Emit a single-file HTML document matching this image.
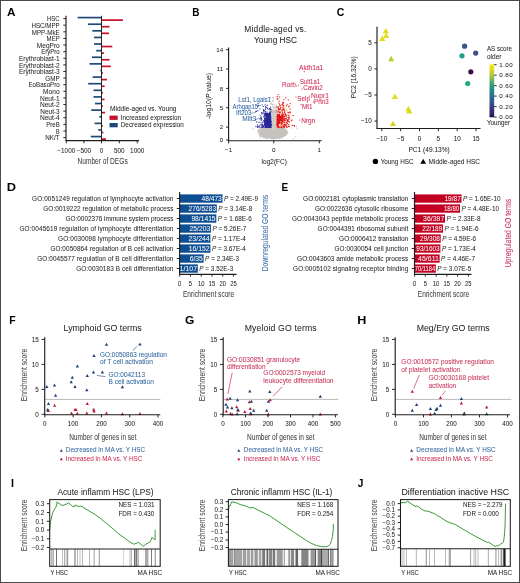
<!DOCTYPE html>
<html><head><meta charset="utf-8"><style>
html,body{margin:0;padding:0;background:#fff;}
body{width:520px;height:583px;overflow:hidden;}
svg{display:block;font-family:"Liberation Sans", sans-serif;}
</style></head><body>
<svg width="520" height="583" viewBox="0 0 520 583" font-family='"Liberation Sans", sans-serif'>
<defs><filter id="soft" filterUnits="userSpaceOnUse" x="0" y="0" width="520" height="583"><feGaussianBlur stdDeviation="0.3"/></filter></defs>
<rect x="0" y="0" width="520" height="583" fill="#fff"/>
<g filter="url(#soft)" fill="#262626">
<rect x="0" y="0" width="520" height="583" fill="#fff"/>
<text transform="translate(6.91,16.0) scale(1.015,1)" font-size="11.6" font-weight="bold" fill="#000">A</text>
<rect x="77.70" y="16.75" width="23.80" height="1.70" fill="#1f4a78"/>
<rect x="101.50" y="19.25" width="21.50" height="1.70" fill="#c8102e"/>
<line x1="63.3" y1="18.6" x2="66" y2="18.6" stroke="#1e1e1e" stroke-width="0.95"/>
<text x="59.7" y="21.3" font-size="6.5" text-anchor="end" textLength="12.7" lengthAdjust="spacingAndGlyphs" stroke="#262626" stroke-width="0.04">HSC</text>
<rect x="88.00" y="23.36" width="13.50" height="1.70" fill="#1f4a78"/>
<rect x="101.50" y="25.86" width="8.00" height="1.70" fill="#c8102e"/>
<line x1="63.3" y1="25.21" x2="66" y2="25.21" stroke="#1e1e1e" stroke-width="0.95"/>
<text x="59.7" y="27.91" font-size="6.5" text-anchor="end" textLength="28.3" lengthAdjust="spacingAndGlyphs" stroke="#262626" stroke-width="0.04">HSC/MPP</text>
<rect x="92.30" y="29.97" width="9.20" height="1.70" fill="#1f4a78"/>
<rect x="101.50" y="32.47" width="7.50" height="1.70" fill="#c8102e"/>
<line x1="63.3" y1="31.82" x2="66" y2="31.82" stroke="#1e1e1e" stroke-width="0.95"/>
<text x="59.7" y="34.52" font-size="6.5" text-anchor="end" textLength="27.9" lengthAdjust="spacingAndGlyphs" stroke="#262626" stroke-width="0.04">MPP-MkE</text>
<rect x="94.00" y="36.58" width="7.50" height="1.70" fill="#1f4a78"/>
<line x1="63.3" y1="38.43000000000001" x2="66" y2="38.43000000000001" stroke="#1e1e1e" stroke-width="0.95"/>
<text x="59.7" y="41.13000000000001" font-size="6.5" text-anchor="end" textLength="13.1" lengthAdjust="spacingAndGlyphs" stroke="#262626" stroke-width="0.04">MEP</text>
<rect x="94.00" y="43.19" width="7.50" height="1.70" fill="#1f4a78"/>
<rect x="101.50" y="45.69" width="10.80" height="1.70" fill="#c8102e"/>
<line x1="63.3" y1="45.040000000000006" x2="66" y2="45.040000000000006" stroke="#1e1e1e" stroke-width="0.95"/>
<text x="59.7" y="47.74000000000001" font-size="6.5" text-anchor="end" textLength="22.9" lengthAdjust="spacingAndGlyphs" stroke="#262626" stroke-width="0.04">MegPro</text>
<rect x="96.20" y="49.80" width="5.30" height="1.70" fill="#1f4a78"/>
<rect x="101.50" y="52.30" width="2.50" height="1.70" fill="#c8102e"/>
<line x1="63.3" y1="51.650000000000006" x2="66" y2="51.650000000000006" stroke="#1e1e1e" stroke-width="0.95"/>
<text x="59.7" y="54.35000000000001" font-size="6.5" text-anchor="end" textLength="18.5" lengthAdjust="spacingAndGlyphs" stroke="#262626" stroke-width="0.04">EryPro</text>
<rect x="92.00" y="56.41" width="9.50" height="1.70" fill="#1f4a78"/>
<rect x="101.50" y="58.91" width="8.00" height="1.70" fill="#c8102e"/>
<line x1="63.3" y1="58.260000000000005" x2="66" y2="58.260000000000005" stroke="#1e1e1e" stroke-width="0.95"/>
<text x="59.7" y="60.96000000000001" font-size="6.5" text-anchor="end" textLength="40.7" lengthAdjust="spacingAndGlyphs" stroke="#262626" stroke-width="0.04">Erythroblast-1</text>
<rect x="89.50" y="63.02" width="12.00" height="1.70" fill="#1f4a78"/>
<rect x="101.50" y="65.52" width="9.30" height="1.70" fill="#c8102e"/>
<line x1="63.3" y1="64.87" x2="66" y2="64.87" stroke="#1e1e1e" stroke-width="0.95"/>
<text x="59.7" y="67.57000000000001" font-size="6.5" text-anchor="end" textLength="40.7" lengthAdjust="spacingAndGlyphs" stroke="#262626" stroke-width="0.04">Erythroblast-2</text>
<rect x="100.30" y="69.63" width="1.20" height="1.70" fill="#1f4a78"/>
<rect x="101.50" y="72.13" width="1.50" height="1.70" fill="#c8102e"/>
<line x1="63.3" y1="71.48" x2="66" y2="71.48" stroke="#1e1e1e" stroke-width="0.95"/>
<text x="59.7" y="74.18" font-size="6.5" text-anchor="end" textLength="40.7" lengthAdjust="spacingAndGlyphs" stroke="#262626" stroke-width="0.04">Erythroblast-3</text>
<rect x="92.60" y="76.24" width="8.90" height="1.70" fill="#1f4a78"/>
<rect x="101.50" y="78.74" width="5.50" height="1.70" fill="#c8102e"/>
<line x1="63.3" y1="78.09" x2="66" y2="78.09" stroke="#1e1e1e" stroke-width="0.95"/>
<text x="59.7" y="80.79" font-size="6.5" text-anchor="end" textLength="14.4" lengthAdjust="spacingAndGlyphs" stroke="#262626" stroke-width="0.04">GMP</text>
<rect x="88.20" y="82.85" width="13.30" height="1.70" fill="#1f4a78"/>
<rect x="101.50" y="85.35" width="3.10" height="1.70" fill="#c8102e"/>
<line x1="63.3" y1="84.70000000000002" x2="66" y2="84.70000000000002" stroke="#1e1e1e" stroke-width="0.95"/>
<text x="59.7" y="87.40000000000002" font-size="6.5" text-anchor="end" textLength="31.2" lengthAdjust="spacingAndGlyphs" stroke="#262626" stroke-width="0.04">EoBasoPro</text>
<rect x="93.50" y="89.46" width="8.00" height="1.70" fill="#1f4a78"/>
<rect x="101.50" y="91.96" width="1.50" height="1.70" fill="#c8102e"/>
<line x1="63.3" y1="91.31" x2="66" y2="91.31" stroke="#1e1e1e" stroke-width="0.95"/>
<text x="59.7" y="94.01" font-size="6.5" text-anchor="end" textLength="16.7" lengthAdjust="spacing" stroke="#262626" stroke-width="0.04">Mono</text>
<rect x="93.50" y="96.07" width="8.00" height="1.70" fill="#1f4a78"/>
<rect x="101.50" y="98.57" width="3.10" height="1.70" fill="#c8102e"/>
<line x1="63.3" y1="97.92000000000002" x2="66" y2="97.92000000000002" stroke="#1e1e1e" stroke-width="0.95"/>
<text x="59.7" y="100.62000000000002" font-size="6.5" text-anchor="end" textLength="19.8" lengthAdjust="spacingAndGlyphs" stroke="#262626" stroke-width="0.04">Neut-1</text>
<rect x="95.00" y="102.68" width="6.50" height="1.70" fill="#1f4a78"/>
<rect x="101.50" y="105.18" width="1.50" height="1.70" fill="#c8102e"/>
<line x1="63.3" y1="104.53" x2="66" y2="104.53" stroke="#1e1e1e" stroke-width="0.95"/>
<text x="59.7" y="107.23" font-size="6.5" text-anchor="end" textLength="19.8" lengthAdjust="spacingAndGlyphs" stroke="#262626" stroke-width="0.04">Neut-2</text>
<rect x="91.20" y="109.29" width="10.30" height="1.70" fill="#1f4a78"/>
<rect x="101.50" y="111.79" width="3.50" height="1.70" fill="#c8102e"/>
<line x1="63.3" y1="111.14000000000001" x2="66" y2="111.14000000000001" stroke="#1e1e1e" stroke-width="0.95"/>
<text x="59.7" y="113.84000000000002" font-size="6.5" text-anchor="end" textLength="19.4" lengthAdjust="spacingAndGlyphs" stroke="#262626" stroke-width="0.04">Neut-3</text>
<rect x="99.20" y="115.90" width="2.30" height="1.70" fill="#1f4a78"/>
<line x1="63.3" y1="117.75" x2="66" y2="117.75" stroke="#1e1e1e" stroke-width="0.95"/>
<text x="59.7" y="120.45" font-size="6.5" text-anchor="end" textLength="19.8" lengthAdjust="spacingAndGlyphs" stroke="#262626" stroke-width="0.04">Neut-4</text>
<rect x="94.60" y="122.51" width="6.90" height="1.70" fill="#1f4a78"/>
<rect x="101.50" y="125.01" width="1.30" height="1.70" fill="#c8102e"/>
<line x1="63.3" y1="124.36000000000001" x2="66" y2="124.36000000000001" stroke="#1e1e1e" stroke-width="0.95"/>
<text x="59.7" y="127.06000000000002" font-size="6.5" text-anchor="end" textLength="13.5" lengthAdjust="spacingAndGlyphs" stroke="#262626" stroke-width="0.04">PreB</text>
<rect x="98.20" y="129.12" width="3.30" height="1.70" fill="#1f4a78"/>
<rect x="101.50" y="131.62" width="1.90" height="1.70" fill="#c8102e"/>
<line x1="63.3" y1="130.97" x2="66" y2="130.97" stroke="#1e1e1e" stroke-width="0.95"/>
<text x="59.7" y="133.67" font-size="6.5" text-anchor="end" textLength="3.6" lengthAdjust="spacingAndGlyphs" stroke="#262626" stroke-width="0.04">B</text>
<rect x="90.80" y="135.73" width="10.70" height="1.70" fill="#1f4a78"/>
<rect x="101.50" y="138.23" width="4.50" height="2.20" fill="#c8102e"/>
<line x1="63.3" y1="137.58" x2="66" y2="137.58" stroke="#1e1e1e" stroke-width="0.95"/>
<text x="59.7" y="140.28" font-size="6.5" text-anchor="end" textLength="14.4" lengthAdjust="spacingAndGlyphs" stroke="#262626" stroke-width="0.04">NK/T</text>
<line x1="66" y1="15.8" x2="66" y2="141" stroke="#1e1e1e" stroke-width="1.15"/>
<line x1="101.5" y1="15.8" x2="101.5" y2="141" stroke="#1e1e1e" stroke-width="0.95"/>
<line x1="65.6" y1="140.6" x2="139" y2="140.6" stroke="#1e1e1e" stroke-width="1.15"/>
<line x1="66.3" y1="140.6" x2="66.3" y2="143.3" stroke="#1e1e1e" stroke-width="0.95"/>
<text x="66.3" y="152.7" font-size="6.4" text-anchor="middle" stroke="#262626" stroke-width="0.04">−1000</text>
<line x1="83.9" y1="140.6" x2="83.9" y2="143.3" stroke="#1e1e1e" stroke-width="0.95"/>
<text x="83.9" y="152.7" font-size="6.4" text-anchor="middle" stroke="#262626" stroke-width="0.04">−500</text>
<line x1="101.5" y1="140.6" x2="101.5" y2="143.3" stroke="#1e1e1e" stroke-width="0.95"/>
<text x="101.5" y="152.7" font-size="6.4" text-anchor="middle" stroke="#262626" stroke-width="0.04">0</text>
<line x1="119.3" y1="140.6" x2="119.3" y2="143.3" stroke="#1e1e1e" stroke-width="0.95"/>
<text x="119.3" y="152.7" font-size="6.4" text-anchor="middle" stroke="#262626" stroke-width="0.04">500</text>
<line x1="137.2" y1="140.6" x2="137.2" y2="143.3" stroke="#1e1e1e" stroke-width="0.95"/>
<text x="137.2" y="152.7" font-size="6.4" text-anchor="middle" stroke="#262626" stroke-width="0.04">1000</text>
<text x="102.6" y="164.3" font-size="8.6" text-anchor="middle" textLength="50.2" lengthAdjust="spacingAndGlyphs" fill="#404040" stroke="#404040" stroke-width="0.04">Number of DEGs</text>
<text x="110" y="111" font-size="6.6" textLength="66.5" lengthAdjust="spacingAndGlyphs" stroke="#262626" stroke-width="0.04">Middle-aged vs. Young</text>
<rect x="109.50" y="115.60" width="8.20" height="4.30" fill="#c8102e"/>
<rect x="109.50" y="123.00" width="8.20" height="4.30" fill="#1f4a78"/>
<text x="120.8" y="119.8" font-size="6.6" textLength="60.2" lengthAdjust="spacingAndGlyphs" stroke="#262626" stroke-width="0.04">Increased expression</text>
<text x="120.8" y="127.3" font-size="6.6" textLength="63" lengthAdjust="spacingAndGlyphs" stroke="#262626" stroke-width="0.04">Decreased expression</text>
<text transform="translate(192.23,15.7) scale(0.862,1)" font-size="11.6" font-weight="bold" fill="#000">B</text>
<text x="275.3" y="31.6" font-size="8.4" text-anchor="middle" textLength="62" lengthAdjust="spacing" stroke="#262626" stroke-width="0.04">Middle-aged vs.</text>
<text x="275.6" y="42.7" font-size="8.4" text-anchor="middle" textLength="43" lengthAdjust="spacingAndGlyphs" stroke="#262626" stroke-width="0.04">Young HSC</text>
<ellipse cx="272.8" cy="132.2" rx="13.6" ry="6.6" fill="#c6c2be"/>
<rect x="270.8" y="110" width="6.0" height="20" fill="#d3cdc8"/>
<rect x="264.2" y="113" width="6.6" height="14.6" fill="#2a2a9c"/>
<rect x="276.9" y="114" width="5.8" height="13.6" fill="#e3141b"/>
<rect x="266.8" y="136.9" width="1.1" height="1.1" fill="#c6c2be"/>
<rect x="265.4" y="127.0" width="1.1" height="1.1" fill="#c6c2be"/>
<rect x="259.7" y="130.3" width="1.1" height="1.1" fill="#c6c2be"/>
<rect x="284.8" y="134.0" width="1.1" height="1.1" fill="#c6c2be"/>
<rect x="285.0" y="133.1" width="1.1" height="1.1" fill="#c6c2be"/>
<rect x="283.0" y="134.1" width="1.1" height="1.1" fill="#c6c2be"/>
<rect x="259.3" y="134.9" width="1.1" height="1.1" fill="#c6c2be"/>
<rect x="281.1" y="135.9" width="1.1" height="1.1" fill="#c6c2be"/>
<rect x="261.8" y="126.4" width="1.1" height="1.1" fill="#c6c2be"/>
<rect x="260.7" y="128.7" width="1.1" height="1.1" fill="#c6c2be"/>
<rect x="283.9" y="130.8" width="1.1" height="1.1" fill="#c6c2be"/>
<rect x="280.2" y="126.9" width="1.1" height="1.1" fill="#c6c2be"/>
<rect x="279.6" y="136.2" width="1.1" height="1.1" fill="#c6c2be"/>
<rect x="267.0" y="138.2" width="1.1" height="1.1" fill="#c6c2be"/>
<rect x="278.0" y="137.7" width="1.1" height="1.1" fill="#c6c2be"/>
<rect x="263.9" y="126.8" width="1.1" height="1.1" fill="#c6c2be"/>
<rect x="261.0" y="130.0" width="1.1" height="1.1" fill="#c6c2be"/>
<rect x="283.7" y="133.8" width="1.1" height="1.1" fill="#c6c2be"/>
<rect x="266.7" y="125.9" width="1.1" height="1.1" fill="#c6c2be"/>
<rect x="266.9" y="137.8" width="1.1" height="1.1" fill="#c6c2be"/>
<rect x="260.1" y="133.4" width="1.1" height="1.1" fill="#c6c2be"/>
<rect x="276.1" y="125.1" width="1.1" height="1.1" fill="#c6c2be"/>
<rect x="272.8" y="138.3" width="1.1" height="1.1" fill="#c6c2be"/>
<rect x="257.7" y="130.5" width="1.1" height="1.1" fill="#c6c2be"/>
<rect x="270.6" y="125.6" width="1.1" height="1.1" fill="#c6c2be"/>
<rect x="284.2" y="130.9" width="1.1" height="1.1" fill="#c6c2be"/>
<rect x="259.8" y="135.1" width="1.1" height="1.1" fill="#c6c2be"/>
<rect x="280.0" y="136.9" width="1.1" height="1.1" fill="#c6c2be"/>
<rect x="285.8" y="133.3" width="1.1" height="1.1" fill="#c6c2be"/>
<rect x="273.5" y="125.0" width="1.1" height="1.1" fill="#c6c2be"/>
<rect x="281.3" y="127.3" width="1.1" height="1.1" fill="#c6c2be"/>
<rect x="267.6" y="125.4" width="1.1" height="1.1" fill="#c6c2be"/>
<rect x="260.6" y="128.6" width="1.1" height="1.1" fill="#c6c2be"/>
<rect x="280.3" y="125.5" width="1.1" height="1.1" fill="#c6c2be"/>
<rect x="258.4" y="132.8" width="1.1" height="1.1" fill="#c6c2be"/>
<rect x="285.4" y="134.2" width="1.1" height="1.1" fill="#c6c2be"/>
<rect x="263.1" y="125.8" width="1.1" height="1.1" fill="#c6c2be"/>
<rect x="277.8" y="126.1" width="1.1" height="1.1" fill="#c6c2be"/>
<rect x="261.7" y="136.1" width="1.1" height="1.1" fill="#c6c2be"/>
<rect x="285.4" y="132.6" width="1.1" height="1.1" fill="#c6c2be"/>
<rect x="278.2" y="136.7" width="1.1" height="1.1" fill="#c6c2be"/>
<rect x="285.7" y="134.2" width="1.1" height="1.1" fill="#c6c2be"/>
<rect x="280.8" y="136.0" width="1.1" height="1.1" fill="#c6c2be"/>
<rect x="260.8" y="136.2" width="1.1" height="1.1" fill="#c6c2be"/>
<rect x="283.8" y="134.8" width="1.1" height="1.1" fill="#c6c2be"/>
<rect x="258.2" y="129.5" width="1.1" height="1.1" fill="#c6c2be"/>
<rect x="278.5" y="125.2" width="1.1" height="1.1" fill="#c6c2be"/>
<rect x="269.9" y="137.9" width="1.1" height="1.1" fill="#c6c2be"/>
<rect x="262.9" y="137.2" width="1.1" height="1.1" fill="#c6c2be"/>
<rect x="283.9" y="130.1" width="1.1" height="1.1" fill="#c6c2be"/>
<rect x="277.8" y="137.0" width="1.1" height="1.1" fill="#c6c2be"/>
<rect x="273.6" y="138.1" width="1.1" height="1.1" fill="#c6c2be"/>
<rect x="261.6" y="128.4" width="1.1" height="1.1" fill="#c6c2be"/>
<rect x="285.3" y="131.8" width="1.1" height="1.1" fill="#c6c2be"/>
<rect x="263.0" y="136.5" width="1.1" height="1.1" fill="#c6c2be"/>
<rect x="285.7" y="129.7" width="1.1" height="1.1" fill="#c6c2be"/>
<rect x="258.5" y="131.0" width="1.1" height="1.1" fill="#c6c2be"/>
<rect x="267.0" y="126.5" width="1.1" height="1.1" fill="#c6c2be"/>
<rect x="283.9" y="127.5" width="1.1" height="1.1" fill="#c6c2be"/>
<rect x="282.5" y="126.7" width="1.1" height="1.1" fill="#c6c2be"/>
<rect x="262.1" y="135.6" width="1.1" height="1.1" fill="#c6c2be"/>
<rect x="283.3" y="135.7" width="1.1" height="1.1" fill="#c6c2be"/>
<rect x="283.2" y="133.8" width="1.1" height="1.1" fill="#c6c2be"/>
<rect x="275.4" y="137.4" width="1.1" height="1.1" fill="#c6c2be"/>
<rect x="265.9" y="136.5" width="1.1" height="1.1" fill="#c6c2be"/>
<rect x="284.4" y="131.7" width="1.1" height="1.1" fill="#c6c2be"/>
<rect x="282.6" y="135.4" width="1.1" height="1.1" fill="#c6c2be"/>
<rect x="286.8" y="132.8" width="1.1" height="1.1" fill="#c6c2be"/>
<rect x="263.1" y="127.8" width="1.1" height="1.1" fill="#c6c2be"/>
<rect x="272.1" y="137.9" width="1.1" height="1.1" fill="#c6c2be"/>
<rect x="264.4" y="136.0" width="1.1" height="1.1" fill="#c6c2be"/>
<rect x="281.1" y="125.7" width="1.1" height="1.1" fill="#c6c2be"/>
<rect x="259.2" y="133.0" width="1.1" height="1.1" fill="#c6c2be"/>
<rect x="282.5" y="134.6" width="1.1" height="1.1" fill="#c6c2be"/>
<rect x="265.4" y="136.7" width="1.1" height="1.1" fill="#c6c2be"/>
<rect x="278.0" y="126.5" width="1.1" height="1.1" fill="#c6c2be"/>
<rect x="287.1" y="132.7" width="1.1" height="1.1" fill="#c6c2be"/>
<rect x="260.3" y="130.6" width="1.1" height="1.1" fill="#c6c2be"/>
<rect x="261.0" y="130.1" width="1.1" height="1.1" fill="#c6c2be"/>
<rect x="257.3" y="130.4" width="1.1" height="1.1" fill="#c6c2be"/>
<rect x="281.5" y="126.5" width="1.1" height="1.1" fill="#c6c2be"/>
<rect x="271.3" y="137.9" width="1.1" height="1.1" fill="#c6c2be"/>
<rect x="279.4" y="137.7" width="1.1" height="1.1" fill="#c6c2be"/>
<rect x="258.1" y="130.2" width="1.1" height="1.1" fill="#c6c2be"/>
<rect x="266.3" y="136.9" width="1.1" height="1.1" fill="#c6c2be"/>
<rect x="278.0" y="124.8" width="1.1" height="1.1" fill="#c6c2be"/>
<rect x="281.0" y="126.0" width="1.1" height="1.1" fill="#c6c2be"/>
<rect x="278.2" y="125.4" width="1.1" height="1.1" fill="#c6c2be"/>
<rect x="274.2" y="138.1" width="1.1" height="1.1" fill="#c6c2be"/>
<rect x="265.1" y="136.1" width="1.1" height="1.1" fill="#c6c2be"/>
<rect x="284.6" y="132.7" width="1.1" height="1.1" fill="#c6c2be"/>
<rect x="271.4" y="138.5" width="1.1" height="1.1" fill="#c6c2be"/>
<rect x="285.0" y="129.9" width="1.1" height="1.1" fill="#c6c2be"/>
<rect x="286.3" y="128.8" width="1.1" height="1.1" fill="#c6c2be"/>
<rect x="284.6" y="129.9" width="1.1" height="1.1" fill="#c6c2be"/>
<rect x="274.5" y="137.6" width="1.1" height="1.1" fill="#c6c2be"/>
<rect x="276.3" y="137.3" width="1.1" height="1.1" fill="#c6c2be"/>
<rect x="261.7" y="126.6" width="1.1" height="1.1" fill="#c6c2be"/>
<rect x="279.4" y="126.2" width="1.1" height="1.1" fill="#c6c2be"/>
<rect x="264.0" y="125.9" width="1.1" height="1.1" fill="#c6c2be"/>
<rect x="284.3" y="135.1" width="1.1" height="1.1" fill="#c6c2be"/>
<rect x="284.4" y="127.9" width="1.1" height="1.1" fill="#c6c2be"/>
<rect x="272.3" y="125.2" width="1.1" height="1.1" fill="#c6c2be"/>
<rect x="278.5" y="138.0" width="1.1" height="1.1" fill="#c6c2be"/>
<rect x="265.1" y="137.8" width="1.1" height="1.1" fill="#c6c2be"/>
<rect x="285.1" y="130.5" width="1.1" height="1.1" fill="#c6c2be"/>
<rect x="260.0" y="135.9" width="1.1" height="1.1" fill="#c6c2be"/>
<rect x="270.3" y="125.8" width="1.1" height="1.1" fill="#c6c2be"/>
<rect x="280.7" y="135.9" width="1.1" height="1.1" fill="#c6c2be"/>
<rect x="284.3" y="127.7" width="1.1" height="1.1" fill="#c6c2be"/>
<rect x="281.1" y="137.3" width="1.1" height="1.1" fill="#c6c2be"/>
<rect x="286.1" y="130.8" width="1.1" height="1.1" fill="#c6c2be"/>
<rect x="264.2" y="137.0" width="1.1" height="1.1" fill="#c6c2be"/>
<rect x="280.1" y="135.8" width="1.1" height="1.1" fill="#c6c2be"/>
<rect x="286.0" y="130.4" width="1.1" height="1.1" fill="#c6c2be"/>
<rect x="257.5" y="130.4" width="1.1" height="1.1" fill="#c6c2be"/>
<rect x="258.7" y="134.5" width="1.1" height="1.1" fill="#c6c2be"/>
<rect x="277.9" y="126.3" width="1.1" height="1.1" fill="#c6c2be"/>
<rect x="272.1" y="137.8" width="1.1" height="1.1" fill="#c6c2be"/>
<rect x="273.1" y="138.3" width="1.1" height="1.1" fill="#c6c2be"/>
<rect x="271.5" y="138.0" width="1.1" height="1.1" fill="#c6c2be"/>
<rect x="282.4" y="137.0" width="1.1" height="1.1" fill="#c6c2be"/>
<rect x="264.2" y="136.8" width="1.1" height="1.1" fill="#c6c2be"/>
<rect x="259.4" y="128.0" width="1.1" height="1.1" fill="#c6c2be"/>
<rect x="259.1" y="135.1" width="1.1" height="1.1" fill="#c6c2be"/>
<rect x="258.7" y="131.6" width="1.1" height="1.1" fill="#c6c2be"/>
<rect x="260.7" y="130.8" width="1.1" height="1.1" fill="#c6c2be"/>
<rect x="260.9" y="133.8" width="1.1" height="1.1" fill="#c6c2be"/>
<rect x="286.7" y="131.8" width="1.1" height="1.1" fill="#c6c2be"/>
<rect x="278.5" y="137.4" width="1.1" height="1.1" fill="#c6c2be"/>
<rect x="270.1" y="125.1" width="1.1" height="1.1" fill="#c6c2be"/>
<rect x="266.1" y="137.5" width="1.1" height="1.1" fill="#c6c2be"/>
<rect x="258.7" y="129.3" width="1.1" height="1.1" fill="#c6c2be"/>
<rect x="283.0" y="135.7" width="1.1" height="1.1" fill="#c6c2be"/>
<rect x="272.4" y="137.8" width="1.1" height="1.1" fill="#c6c2be"/>
<rect x="274.1" y="125.2" width="1.1" height="1.1" fill="#c6c2be"/>
<rect x="259.0" y="129.0" width="1.1" height="1.1" fill="#c6c2be"/>
<rect x="283.5" y="128.3" width="1.1" height="1.1" fill="#c6c2be"/>
<rect x="262.0" y="127.4" width="1.1" height="1.1" fill="#c6c2be"/>
<rect x="258.2" y="131.1" width="1.1" height="1.1" fill="#c6c2be"/>
<rect x="259.3" y="133.6" width="1.1" height="1.1" fill="#c6c2be"/>
<rect x="257.4" y="132.7" width="1.1" height="1.1" fill="#c6c2be"/>
<rect x="267.6" y="124.8" width="1.1" height="1.1" fill="#c6c2be"/>
<rect x="283.9" y="129.5" width="1.1" height="1.1" fill="#c6c2be"/>
<rect x="258.3" y="129.0" width="1.1" height="1.1" fill="#c6c2be"/>
<rect x="278.7" y="126.7" width="1.1" height="1.1" fill="#c6c2be"/>
<rect x="281.8" y="136.1" width="1.1" height="1.1" fill="#c6c2be"/>
<rect x="283.4" y="134.3" width="1.1" height="1.1" fill="#c6c2be"/>
<rect x="284.8" y="134.7" width="1.1" height="1.1" fill="#c6c2be"/>
<rect x="275.4" y="124.6" width="1.1" height="1.1" fill="#c6c2be"/>
<rect x="280.3" y="137.3" width="1.1" height="1.1" fill="#c6c2be"/>
<rect x="265.8" y="126.7" width="1.1" height="1.1" fill="#c6c2be"/>
<rect x="283.4" y="126.7" width="1.1" height="1.1" fill="#c6c2be"/>
<rect x="261.5" y="135.5" width="1.1" height="1.1" fill="#c6c2be"/>
<rect x="286.8" y="131.2" width="1.1" height="1.1" fill="#c6c2be"/>
<rect x="279.2" y="137.1" width="1.1" height="1.1" fill="#c6c2be"/>
<rect x="259.5" y="131.0" width="1.1" height="1.1" fill="#c6c2be"/>
<rect x="276.5" y="137.5" width="1.1" height="1.1" fill="#c6c2be"/>
<rect x="270.2" y="126.1" width="1.1" height="1.1" fill="#c6c2be"/>
<rect x="272.1" y="106.1" width="1.1" height="1.1" fill="#c6c2be"/>
<rect x="270.2" y="112.2" width="1.1" height="1.1" fill="#c6c2be"/>
<rect x="270.0" y="108.7" width="1.1" height="1.1" fill="#c6c2be"/>
<rect x="270.7" y="102.6" width="1.1" height="1.1" fill="#c6c2be"/>
<rect x="276.2" y="105.2" width="1.1" height="1.1" fill="#c6c2be"/>
<rect x="272.7" y="96.7" width="1.1" height="1.1" fill="#c6c2be"/>
<rect x="275.7" y="96.6" width="1.1" height="1.1" fill="#c6c2be"/>
<rect x="271.9" y="100.6" width="1.1" height="1.1" fill="#c6c2be"/>
<rect x="269.9" y="107.9" width="1.1" height="1.1" fill="#c6c2be"/>
<rect x="271.1" y="103.5" width="1.1" height="1.1" fill="#c6c2be"/>
<rect x="270.5" y="109.4" width="1.1" height="1.1" fill="#c6c2be"/>
<rect x="273.2" y="109.6" width="1.1" height="1.1" fill="#c6c2be"/>
<rect x="273.3" y="107.1" width="1.1" height="1.1" fill="#c6c2be"/>
<rect x="272.1" y="109.6" width="1.1" height="1.1" fill="#c6c2be"/>
<rect x="270.3" y="109.8" width="1.1" height="1.1" fill="#c6c2be"/>
<rect x="272.9" y="99.9" width="1.1" height="1.1" fill="#c6c2be"/>
<rect x="273.5" y="108.2" width="1.1" height="1.1" fill="#c6c2be"/>
<rect x="274.8" y="110.4" width="1.1" height="1.1" fill="#c6c2be"/>
<rect x="272.0" y="112.2" width="1.1" height="1.1" fill="#c6c2be"/>
<rect x="275.6" y="110.6" width="1.1" height="1.1" fill="#c6c2be"/>
<rect x="273.4" y="104.0" width="1.1" height="1.1" fill="#c6c2be"/>
<rect x="275.4" y="109.5" width="1.1" height="1.1" fill="#c6c2be"/>
<rect x="276.0" y="107.1" width="1.1" height="1.1" fill="#c6c2be"/>
<rect x="272.3" y="97.2" width="1.1" height="1.1" fill="#c6c2be"/>
<rect x="273.7" y="106.1" width="1.1" height="1.1" fill="#c6c2be"/>
<rect x="275.3" y="108.2" width="1.1" height="1.1" fill="#c6c2be"/>
<rect x="274.9" y="112.0" width="1.1" height="1.1" fill="#c6c2be"/>
<rect x="272.4" y="103.6" width="1.1" height="1.1" fill="#c6c2be"/>
<rect x="275.1" y="105.9" width="1.1" height="1.1" fill="#c6c2be"/>
<rect x="274.5" y="107.2" width="1.1" height="1.1" fill="#c6c2be"/>
<rect x="271.8" y="104.2" width="1.1" height="1.1" fill="#c6c2be"/>
<rect x="273.0" y="97.5" width="1.1" height="1.1" fill="#c6c2be"/>
<rect x="271.1" y="112.1" width="1.1" height="1.1" fill="#c6c2be"/>
<rect x="269.9" y="103.3" width="1.1" height="1.1" fill="#c6c2be"/>
<rect x="271.2" y="111.5" width="1.1" height="1.1" fill="#c6c2be"/>
<rect x="276.4" y="97.7" width="1.1" height="1.1" fill="#c6c2be"/>
<rect x="273.3" y="110.5" width="1.1" height="1.1" fill="#c6c2be"/>
<rect x="271.4" y="110.7" width="1.1" height="1.1" fill="#c6c2be"/>
<rect x="272.2" y="100.8" width="1.1" height="1.1" fill="#c6c2be"/>
<rect x="269.8" y="108.2" width="1.1" height="1.1" fill="#c6c2be"/>
<rect x="270.6" y="111.2" width="1.1" height="1.1" fill="#c6c2be"/>
<rect x="272.5" y="112.4" width="1.1" height="1.1" fill="#c6c2be"/>
<rect x="270.1" y="97.2" width="1.1" height="1.1" fill="#c6c2be"/>
<rect x="271.7" y="111.4" width="1.1" height="1.1" fill="#c6c2be"/>
<rect x="272.4" y="111.7" width="1.1" height="1.1" fill="#c6c2be"/>
<rect x="275.4" y="106.2" width="1.1" height="1.1" fill="#c6c2be"/>
<rect x="276.3" y="104.8" width="1.1" height="1.1" fill="#c6c2be"/>
<rect x="270.1" y="107.9" width="1.1" height="1.1" fill="#c6c2be"/>
<rect x="270.1" y="111.2" width="1.1" height="1.1" fill="#c6c2be"/>
<rect x="272.1" y="129.3" width="1.1" height="1.1" fill="#c6c2be"/>
<rect x="263.7" y="134.8" width="1.1" height="1.1" fill="#c6c2be"/>
<rect x="296.3" y="128.1" width="1.1" height="1.1" fill="#c6c2be"/>
<rect x="280.9" y="128.7" width="1.1" height="1.1" fill="#c6c2be"/>
<rect x="276.2" y="130.0" width="1.1" height="1.1" fill="#c6c2be"/>
<rect x="257.5" y="126.7" width="1.1" height="1.1" fill="#c6c2be"/>
<rect x="259.4" y="137.1" width="1.1" height="1.1" fill="#c6c2be"/>
<rect x="273.3" y="127.5" width="1.1" height="1.1" fill="#c6c2be"/>
<rect x="293.0" y="138.4" width="1.1" height="1.1" fill="#c6c2be"/>
<rect x="271.0" y="126.4" width="1.1" height="1.1" fill="#c6c2be"/>
<rect x="258.7" y="125.7" width="1.1" height="1.1" fill="#c6c2be"/>
<rect x="265.9" y="125.7" width="1.1" height="1.1" fill="#c6c2be"/>
<rect x="260.9" y="128.1" width="1.1" height="1.1" fill="#c6c2be"/>
<rect x="276.8" y="136.9" width="1.1" height="1.1" fill="#c6c2be"/>
<rect x="285.4" y="130.2" width="1.1" height="1.1" fill="#c6c2be"/>
<rect x="269.3" y="131.8" width="1.1" height="1.1" fill="#c6c2be"/>
<rect x="267.5" y="129.2" width="1.1" height="1.1" fill="#c6c2be"/>
<rect x="252.4" y="128.3" width="1.1" height="1.1" fill="#c6c2be"/>
<rect x="295.9" y="126.2" width="1.1" height="1.1" fill="#c6c2be"/>
<rect x="273.6" y="133.3" width="1.1" height="1.1" fill="#c6c2be"/>
<rect x="290.9" y="127.5" width="1.1" height="1.1" fill="#c6c2be"/>
<rect x="262.5" y="127.9" width="1.1" height="1.1" fill="#c6c2be"/>
<rect x="268.6" y="130.7" width="1.1" height="1.1" fill="#c6c2be"/>
<rect x="295.2" y="136.3" width="1.1" height="1.1" fill="#c6c2be"/>
<rect x="291.3" y="124.8" width="1.1" height="1.1" fill="#c6c2be"/>
<rect x="261.2" y="124.4" width="1.1" height="1.1" fill="#2a2a9c"/>
<rect x="265.1" y="121.2" width="1.1" height="1.1" fill="#2a2a9c"/>
<rect x="270.4" y="127.0" width="1.1" height="1.1" fill="#2a2a9c"/>
<rect x="259.8" y="114.8" width="1.1" height="1.1" fill="#2a2a9c"/>
<rect x="265.1" y="112.2" width="1.1" height="1.1" fill="#2a2a9c"/>
<rect x="266.0" y="125.9" width="1.1" height="1.1" fill="#2a2a9c"/>
<rect x="267.8" y="123.9" width="1.1" height="1.1" fill="#2a2a9c"/>
<rect x="261.5" y="125.2" width="1.1" height="1.1" fill="#2a2a9c"/>
<rect x="261.5" y="122.2" width="1.1" height="1.1" fill="#2a2a9c"/>
<rect x="264.3" y="115.5" width="1.1" height="1.1" fill="#2a2a9c"/>
<rect x="263.1" y="124.2" width="1.1" height="1.1" fill="#2a2a9c"/>
<rect x="260.3" y="123.4" width="1.1" height="1.1" fill="#2a2a9c"/>
<rect x="269.0" y="108.1" width="1.1" height="1.1" fill="#2a2a9c"/>
<rect x="267.3" y="121.3" width="1.1" height="1.1" fill="#2a2a9c"/>
<rect x="267.3" y="122.4" width="1.1" height="1.1" fill="#2a2a9c"/>
<rect x="264.4" y="117.1" width="1.1" height="1.1" fill="#2a2a9c"/>
<rect x="268.7" y="124.9" width="1.1" height="1.1" fill="#2a2a9c"/>
<rect x="262.6" y="125.3" width="1.1" height="1.1" fill="#2a2a9c"/>
<rect x="267.2" y="123.1" width="1.1" height="1.1" fill="#2a2a9c"/>
<rect x="269.7" y="126.3" width="1.1" height="1.1" fill="#2a2a9c"/>
<rect x="268.3" y="118.1" width="1.1" height="1.1" fill="#2a2a9c"/>
<rect x="262.1" y="123.9" width="1.1" height="1.1" fill="#2a2a9c"/>
<rect x="265.4" y="120.6" width="1.1" height="1.1" fill="#2a2a9c"/>
<rect x="270.0" y="120.7" width="1.1" height="1.1" fill="#2a2a9c"/>
<rect x="261.4" y="123.8" width="1.1" height="1.1" fill="#2a2a9c"/>
<rect x="270.0" y="125.4" width="1.1" height="1.1" fill="#2a2a9c"/>
<rect x="261.5" y="126.9" width="1.1" height="1.1" fill="#2a2a9c"/>
<rect x="266.4" y="123.9" width="1.1" height="1.1" fill="#2a2a9c"/>
<rect x="263.7" y="110.2" width="1.1" height="1.1" fill="#2a2a9c"/>
<rect x="270.2" y="124.8" width="1.1" height="1.1" fill="#2a2a9c"/>
<rect x="267.2" y="119.5" width="1.1" height="1.1" fill="#2a2a9c"/>
<rect x="268.8" y="121.9" width="1.1" height="1.1" fill="#2a2a9c"/>
<rect x="267.6" y="113.7" width="1.1" height="1.1" fill="#2a2a9c"/>
<rect x="266.4" y="126.9" width="1.1" height="1.1" fill="#2a2a9c"/>
<rect x="265.4" y="125.7" width="1.1" height="1.1" fill="#2a2a9c"/>
<rect x="268.6" y="121.5" width="1.1" height="1.1" fill="#2a2a9c"/>
<rect x="268.6" y="112.9" width="1.1" height="1.1" fill="#2a2a9c"/>
<rect x="266.3" y="106.9" width="1.1" height="1.1" fill="#2a2a9c"/>
<rect x="266.6" y="126.9" width="1.1" height="1.1" fill="#2a2a9c"/>
<rect x="269.4" y="118.3" width="1.1" height="1.1" fill="#2a2a9c"/>
<rect x="263.0" y="109.2" width="1.1" height="1.1" fill="#2a2a9c"/>
<rect x="266.8" y="120.3" width="1.1" height="1.1" fill="#2a2a9c"/>
<rect x="266.7" y="104.7" width="1.1" height="1.1" fill="#2a2a9c"/>
<rect x="269.2" y="124.9" width="1.1" height="1.1" fill="#2a2a9c"/>
<rect x="264.9" y="123.9" width="1.1" height="1.1" fill="#2a2a9c"/>
<rect x="260.5" y="116.5" width="1.1" height="1.1" fill="#2a2a9c"/>
<rect x="265.6" y="123.9" width="1.1" height="1.1" fill="#2a2a9c"/>
<rect x="264.9" y="108.7" width="1.1" height="1.1" fill="#2a2a9c"/>
<rect x="270.4" y="124.9" width="1.1" height="1.1" fill="#2a2a9c"/>
<rect x="267.5" y="119.9" width="1.1" height="1.1" fill="#2a2a9c"/>
<rect x="266.7" y="121.6" width="1.1" height="1.1" fill="#2a2a9c"/>
<rect x="270.2" y="126.5" width="1.1" height="1.1" fill="#2a2a9c"/>
<rect x="269.4" y="119.3" width="1.1" height="1.1" fill="#2a2a9c"/>
<rect x="267.5" y="125.8" width="1.1" height="1.1" fill="#2a2a9c"/>
<rect x="266.5" y="125.8" width="1.1" height="1.1" fill="#2a2a9c"/>
<rect x="263.5" y="114.7" width="1.1" height="1.1" fill="#2a2a9c"/>
<rect x="267.7" y="118.9" width="1.1" height="1.1" fill="#2a2a9c"/>
<rect x="264.0" y="124.1" width="1.1" height="1.1" fill="#2a2a9c"/>
<rect x="261.1" y="113.4" width="1.1" height="1.1" fill="#2a2a9c"/>
<rect x="268.4" y="119.5" width="1.1" height="1.1" fill="#2a2a9c"/>
<rect x="269.3" y="125.8" width="1.1" height="1.1" fill="#2a2a9c"/>
<rect x="261.2" y="118.8" width="1.1" height="1.1" fill="#2a2a9c"/>
<rect x="270.3" y="124.6" width="1.1" height="1.1" fill="#2a2a9c"/>
<rect x="268.3" y="126.4" width="1.1" height="1.1" fill="#2a2a9c"/>
<rect x="266.4" y="123.9" width="1.1" height="1.1" fill="#2a2a9c"/>
<rect x="270.2" y="108.9" width="1.1" height="1.1" fill="#2a2a9c"/>
<rect x="267.9" y="121.3" width="1.1" height="1.1" fill="#2a2a9c"/>
<rect x="262.4" y="124.0" width="1.1" height="1.1" fill="#2a2a9c"/>
<rect x="269.7" y="113.6" width="1.1" height="1.1" fill="#2a2a9c"/>
<rect x="268.5" y="120.8" width="1.1" height="1.1" fill="#2a2a9c"/>
<rect x="260.4" y="126.7" width="1.1" height="1.1" fill="#2a2a9c"/>
<rect x="263.1" y="121.0" width="1.1" height="1.1" fill="#2a2a9c"/>
<rect x="269.2" y="126.4" width="1.1" height="1.1" fill="#2a2a9c"/>
<rect x="269.8" y="117.4" width="1.1" height="1.1" fill="#2a2a9c"/>
<rect x="256.1" y="121.4" width="1.1" height="1.1" fill="#2a2a9c"/>
<rect x="267.0" y="122.8" width="1.1" height="1.1" fill="#2a2a9c"/>
<rect x="264.1" y="122.8" width="1.1" height="1.1" fill="#2a2a9c"/>
<rect x="267.0" y="124.7" width="1.1" height="1.1" fill="#2a2a9c"/>
<rect x="267.3" y="113.9" width="1.1" height="1.1" fill="#2a2a9c"/>
<rect x="265.9" y="113.9" width="1.1" height="1.1" fill="#2a2a9c"/>
<rect x="266.3" y="122.3" width="1.1" height="1.1" fill="#2a2a9c"/>
<rect x="268.0" y="119.8" width="1.1" height="1.1" fill="#2a2a9c"/>
<rect x="270.0" y="123.7" width="1.1" height="1.1" fill="#2a2a9c"/>
<rect x="267.2" y="113.6" width="1.1" height="1.1" fill="#2a2a9c"/>
<rect x="270.4" y="123.9" width="1.1" height="1.1" fill="#2a2a9c"/>
<rect x="263.0" y="124.8" width="1.1" height="1.1" fill="#2a2a9c"/>
<rect x="262.7" y="105.9" width="1.1" height="1.1" fill="#2a2a9c"/>
<rect x="257.2" y="110.2" width="1.1" height="1.1" fill="#2a2a9c"/>
<rect x="270.2" y="123.5" width="1.1" height="1.1" fill="#2a2a9c"/>
<rect x="264.7" y="121.4" width="1.1" height="1.1" fill="#2a2a9c"/>
<rect x="268.8" y="118.1" width="1.1" height="1.1" fill="#2a2a9c"/>
<rect x="269.8" y="118.3" width="1.1" height="1.1" fill="#2a2a9c"/>
<rect x="263.9" y="118.3" width="1.1" height="1.1" fill="#2a2a9c"/>
<rect x="270.3" y="110.6" width="1.1" height="1.1" fill="#2a2a9c"/>
<rect x="268.9" y="123.3" width="1.1" height="1.1" fill="#2a2a9c"/>
<rect x="267.7" y="121.1" width="1.1" height="1.1" fill="#2a2a9c"/>
<rect x="265.2" y="123.7" width="1.1" height="1.1" fill="#2a2a9c"/>
<rect x="270.2" y="121.4" width="1.1" height="1.1" fill="#2a2a9c"/>
<rect x="270.4" y="120.7" width="1.1" height="1.1" fill="#2a2a9c"/>
<rect x="263.3" y="112.6" width="1.1" height="1.1" fill="#2a2a9c"/>
<rect x="265.7" y="123.5" width="1.1" height="1.1" fill="#2a2a9c"/>
<rect x="255.6" y="110.9" width="1.1" height="1.1" fill="#2a2a9c"/>
<rect x="266.1" y="126.8" width="1.1" height="1.1" fill="#2a2a9c"/>
<rect x="267.3" y="115.5" width="1.1" height="1.1" fill="#2a2a9c"/>
<rect x="267.7" y="126.8" width="1.1" height="1.1" fill="#2a2a9c"/>
<rect x="259.5" y="124.6" width="1.1" height="1.1" fill="#2a2a9c"/>
<rect x="263.3" y="111.2" width="1.1" height="1.1" fill="#2a2a9c"/>
<rect x="265.6" y="125.3" width="1.1" height="1.1" fill="#2a2a9c"/>
<rect x="267.6" y="123.3" width="1.1" height="1.1" fill="#2a2a9c"/>
<rect x="262.6" y="125.1" width="1.1" height="1.1" fill="#2a2a9c"/>
<rect x="265.2" y="123.6" width="1.1" height="1.1" fill="#2a2a9c"/>
<rect x="266.1" y="120.1" width="1.1" height="1.1" fill="#2a2a9c"/>
<rect x="269.8" y="112.3" width="1.1" height="1.1" fill="#2a2a9c"/>
<rect x="267.8" y="125.7" width="1.1" height="1.1" fill="#2a2a9c"/>
<rect x="263.6" y="120.3" width="1.1" height="1.1" fill="#2a2a9c"/>
<rect x="269.3" y="119.1" width="1.1" height="1.1" fill="#2a2a9c"/>
<rect x="267.9" y="122.6" width="1.1" height="1.1" fill="#2a2a9c"/>
<rect x="270.2" y="115.6" width="1.1" height="1.1" fill="#2a2a9c"/>
<rect x="268.1" y="122.4" width="1.1" height="1.1" fill="#2a2a9c"/>
<rect x="265.1" y="126.5" width="1.1" height="1.1" fill="#2a2a9c"/>
<rect x="268.8" y="122.2" width="1.1" height="1.1" fill="#2a2a9c"/>
<rect x="268.9" y="121.7" width="1.1" height="1.1" fill="#2a2a9c"/>
<rect x="268.3" y="116.8" width="1.1" height="1.1" fill="#2a2a9c"/>
<rect x="267.9" y="125.5" width="1.1" height="1.1" fill="#2a2a9c"/>
<rect x="264.4" y="120.5" width="1.1" height="1.1" fill="#2a2a9c"/>
<rect x="268.8" y="124.2" width="1.1" height="1.1" fill="#2a2a9c"/>
<rect x="265.7" y="115.8" width="1.1" height="1.1" fill="#2a2a9c"/>
<rect x="266.3" y="123.3" width="1.1" height="1.1" fill="#2a2a9c"/>
<rect x="265.2" y="107.4" width="1.1" height="1.1" fill="#2a2a9c"/>
<rect x="267.5" y="116.9" width="1.1" height="1.1" fill="#2a2a9c"/>
<rect x="266.6" y="120.2" width="1.1" height="1.1" fill="#2a2a9c"/>
<rect x="257.1" y="105.5" width="1.1" height="1.1" fill="#2a2a9c"/>
<rect x="267.8" y="122.8" width="1.1" height="1.1" fill="#2a2a9c"/>
<rect x="269.9" y="121.4" width="1.1" height="1.1" fill="#2a2a9c"/>
<rect x="257.5" y="126.4" width="1.1" height="1.1" fill="#2a2a9c"/>
<rect x="260.6" y="119.8" width="1.1" height="1.1" fill="#2a2a9c"/>
<rect x="260.1" y="117.3" width="1.1" height="1.1" fill="#2a2a9c"/>
<rect x="267.0" y="125.8" width="1.1" height="1.1" fill="#2a2a9c"/>
<rect x="262.9" y="126.0" width="1.1" height="1.1" fill="#2a2a9c"/>
<rect x="262.1" y="112.6" width="1.1" height="1.1" fill="#2a2a9c"/>
<rect x="263.4" y="120.8" width="1.1" height="1.1" fill="#2a2a9c"/>
<rect x="265.6" y="119.7" width="1.1" height="1.1" fill="#2a2a9c"/>
<rect x="267.5" y="121.5" width="1.1" height="1.1" fill="#2a2a9c"/>
<rect x="256.9" y="124.5" width="1.1" height="1.1" fill="#2a2a9c"/>
<rect x="265.0" y="120.8" width="1.1" height="1.1" fill="#2a2a9c"/>
<rect x="265.2" y="106.2" width="1.1" height="1.1" fill="#2a2a9c"/>
<rect x="269.4" y="122.9" width="1.1" height="1.1" fill="#2a2a9c"/>
<rect x="255.1" y="118.9" width="1.1" height="1.1" fill="#2a2a9c"/>
<rect x="268.5" y="126.7" width="1.1" height="1.1" fill="#2a2a9c"/>
<rect x="265.1" y="123.3" width="1.1" height="1.1" fill="#2a2a9c"/>
<rect x="263.6" y="120.4" width="1.1" height="1.1" fill="#2a2a9c"/>
<rect x="268.8" y="122.6" width="1.1" height="1.1" fill="#2a2a9c"/>
<rect x="269.5" y="121.2" width="1.1" height="1.1" fill="#2a2a9c"/>
<rect x="260.9" y="117.8" width="1.1" height="1.1" fill="#2a2a9c"/>
<rect x="268.6" y="122.3" width="1.1" height="1.1" fill="#2a2a9c"/>
<rect x="269.2" y="118.6" width="1.1" height="1.1" fill="#2a2a9c"/>
<rect x="264.6" y="126.1" width="1.1" height="1.1" fill="#2a2a9c"/>
<rect x="267.2" y="122.6" width="1.1" height="1.1" fill="#2a2a9c"/>
<rect x="268.4" y="109.1" width="1.1" height="1.1" fill="#2a2a9c"/>
<rect x="263.0" y="124.3" width="1.1" height="1.1" fill="#2a2a9c"/>
<rect x="270.4" y="124.7" width="1.1" height="1.1" fill="#2a2a9c"/>
<rect x="268.9" y="123.4" width="1.1" height="1.1" fill="#2a2a9c"/>
<rect x="264.3" y="120.8" width="1.1" height="1.1" fill="#2a2a9c"/>
<rect x="266.9" y="121.8" width="1.1" height="1.1" fill="#2a2a9c"/>
<rect x="263.5" y="121.6" width="1.1" height="1.1" fill="#2a2a9c"/>
<rect x="262.6" y="121.4" width="1.1" height="1.1" fill="#2a2a9c"/>
<rect x="264.4" y="124.1" width="1.1" height="1.1" fill="#2a2a9c"/>
<rect x="262.2" y="125.3" width="1.1" height="1.1" fill="#2a2a9c"/>
<rect x="266.1" y="126.6" width="1.1" height="1.1" fill="#2a2a9c"/>
<rect x="269.6" y="112.3" width="1.1" height="1.1" fill="#2a2a9c"/>
<rect x="266.8" y="125.7" width="1.1" height="1.1" fill="#2a2a9c"/>
<rect x="267.6" y="126.4" width="1.1" height="1.1" fill="#2a2a9c"/>
<rect x="266.0" y="120.5" width="1.1" height="1.1" fill="#2a2a9c"/>
<rect x="265.0" y="122.0" width="1.1" height="1.1" fill="#2a2a9c"/>
<rect x="268.7" y="126.9" width="1.1" height="1.1" fill="#2a2a9c"/>
<rect x="268.8" y="124.4" width="1.1" height="1.1" fill="#2a2a9c"/>
<rect x="269.4" y="112.4" width="1.1" height="1.1" fill="#2a2a9c"/>
<rect x="268.5" y="126.8" width="1.1" height="1.1" fill="#2a2a9c"/>
<rect x="264.6" y="126.8" width="1.1" height="1.1" fill="#2a2a9c"/>
<rect x="267.4" y="125.7" width="1.1" height="1.1" fill="#2a2a9c"/>
<rect x="258.0" y="104.9" width="1.1" height="1.1" fill="#2a2a9c"/>
<rect x="269.2" y="111.5" width="1.1" height="1.1" fill="#2a2a9c"/>
<rect x="264.6" y="104.5" width="1.1" height="1.1" fill="#2a2a9c"/>
<rect x="255.4" y="126.0" width="1.1" height="1.1" fill="#2a2a9c"/>
<rect x="267.3" y="124.5" width="1.1" height="1.1" fill="#2a2a9c"/>
<rect x="267.1" y="108.0" width="1.1" height="1.1" fill="#2a2a9c"/>
<rect x="265.3" y="123.9" width="1.1" height="1.1" fill="#2a2a9c"/>
<rect x="270.3" y="122.1" width="1.1" height="1.1" fill="#2a2a9c"/>
<rect x="266.6" y="122.9" width="1.1" height="1.1" fill="#2a2a9c"/>
<rect x="269.1" y="122.7" width="1.1" height="1.1" fill="#2a2a9c"/>
<rect x="257.0" y="126.8" width="1.1" height="1.1" fill="#2a2a9c"/>
<rect x="269.2" y="120.6" width="1.1" height="1.1" fill="#2a2a9c"/>
<rect x="265.2" y="126.8" width="1.1" height="1.1" fill="#2a2a9c"/>
<rect x="266.7" y="125.8" width="1.1" height="1.1" fill="#2a2a9c"/>
<rect x="263.0" y="110.1" width="1.1" height="1.1" fill="#2a2a9c"/>
<rect x="265.0" y="110.7" width="1.1" height="1.1" fill="#2a2a9c"/>
<rect x="265.3" y="114.0" width="1.1" height="1.1" fill="#2a2a9c"/>
<rect x="264.9" y="120.1" width="1.1" height="1.1" fill="#2a2a9c"/>
<rect x="266.7" y="121.0" width="1.1" height="1.1" fill="#2a2a9c"/>
<rect x="265.1" y="119.3" width="1.1" height="1.1" fill="#2a2a9c"/>
<rect x="259.6" y="118.6" width="1.1" height="1.1" fill="#2a2a9c"/>
<rect x="255.5" y="110.7" width="1.1" height="1.1" fill="#2a2a9c"/>
<rect x="266.3" y="120.9" width="1.1" height="1.1" fill="#2a2a9c"/>
<rect x="269.1" y="120.7" width="1.1" height="1.1" fill="#2a2a9c"/>
<rect x="262.6" y="126.4" width="1.1" height="1.1" fill="#2a2a9c"/>
<rect x="263.9" y="115.9" width="1.1" height="1.1" fill="#2a2a9c"/>
<rect x="267.0" y="125.2" width="1.1" height="1.1" fill="#2a2a9c"/>
<rect x="270.4" y="124.4" width="1.1" height="1.1" fill="#2a2a9c"/>
<rect x="268.5" y="121.2" width="1.1" height="1.1" fill="#2a2a9c"/>
<rect x="259.4" y="108.3" width="1.1" height="1.1" fill="#2a2a9c"/>
<rect x="262.9" y="120.6" width="1.1" height="1.1" fill="#2a2a9c"/>
<rect x="270.3" y="126.6" width="1.1" height="1.1" fill="#2a2a9c"/>
<rect x="267.1" y="126.0" width="1.1" height="1.1" fill="#2a2a9c"/>
<rect x="265.7" y="121.0" width="1.1" height="1.1" fill="#2a2a9c"/>
<rect x="257.7" y="125.6" width="1.1" height="1.1" fill="#2a2a9c"/>
<rect x="267.5" y="122.5" width="1.1" height="1.1" fill="#2a2a9c"/>
<rect x="269.7" y="125.6" width="1.1" height="1.1" fill="#2a2a9c"/>
<rect x="264.8" y="126.9" width="1.1" height="1.1" fill="#2a2a9c"/>
<rect x="266.0" y="122.1" width="1.1" height="1.1" fill="#2a2a9c"/>
<rect x="269.2" y="115.9" width="1.1" height="1.1" fill="#2a2a9c"/>
<rect x="267.0" y="124.0" width="1.1" height="1.1" fill="#2a2a9c"/>
<rect x="265.6" y="120.3" width="1.1" height="1.1" fill="#2a2a9c"/>
<rect x="261.1" y="112.1" width="1.1" height="1.1" fill="#2a2a9c"/>
<rect x="270.3" y="122.2" width="1.1" height="1.1" fill="#2a2a9c"/>
<rect x="263.4" y="120.2" width="1.1" height="1.1" fill="#2a2a9c"/>
<rect x="263.2" y="116.3" width="1.1" height="1.1" fill="#2a2a9c"/>
<rect x="266.6" y="123.2" width="1.1" height="1.1" fill="#2a2a9c"/>
<rect x="261.8" y="126.2" width="1.1" height="1.1" fill="#2a2a9c"/>
<rect x="265.3" y="124.0" width="1.1" height="1.1" fill="#2a2a9c"/>
<rect x="266.5" y="119.8" width="1.1" height="1.1" fill="#2a2a9c"/>
<rect x="261.4" y="121.7" width="1.1" height="1.1" fill="#2a2a9c"/>
<rect x="270.3" y="108.7" width="1.1" height="1.1" fill="#2a2a9c"/>
<rect x="263.3" y="124.2" width="1.1" height="1.1" fill="#2a2a9c"/>
<rect x="266.8" y="123.6" width="1.1" height="1.1" fill="#2a2a9c"/>
<rect x="260.7" y="121.8" width="1.1" height="1.1" fill="#2a2a9c"/>
<rect x="262.9" y="126.2" width="1.1" height="1.1" fill="#2a2a9c"/>
<rect x="267.4" y="125.3" width="1.1" height="1.1" fill="#2a2a9c"/>
<rect x="267.9" y="116.0" width="1.1" height="1.1" fill="#2a2a9c"/>
<rect x="261.9" y="126.5" width="1.1" height="1.1" fill="#2a2a9c"/>
<rect x="269.0" y="122.2" width="1.1" height="1.1" fill="#2a2a9c"/>
<rect x="268.6" y="120.4" width="1.1" height="1.1" fill="#2a2a9c"/>
<rect x="258.4" y="121.7" width="1.1" height="1.1" fill="#2a2a9c"/>
<rect x="268.5" y="113.9" width="1.1" height="1.1" fill="#2a2a9c"/>
<rect x="258.9" y="126.4" width="1.1" height="1.1" fill="#2a2a9c"/>
<rect x="270.2" y="117.5" width="1.1" height="1.1" fill="#2a2a9c"/>
<rect x="270.1" y="117.7" width="1.1" height="1.1" fill="#2a2a9c"/>
<rect x="270.0" y="123.1" width="1.1" height="1.1" fill="#2a2a9c"/>
<rect x="270.3" y="124.7" width="1.1" height="1.1" fill="#2a2a9c"/>
<rect x="265.3" y="114.9" width="1.1" height="1.1" fill="#2a2a9c"/>
<rect x="266.5" y="111.6" width="1.1" height="1.1" fill="#2a2a9c"/>
<rect x="269.3" y="120.6" width="1.1" height="1.1" fill="#2a2a9c"/>
<rect x="264.4" y="124.0" width="1.1" height="1.1" fill="#2a2a9c"/>
<rect x="268.7" y="117.0" width="1.1" height="1.1" fill="#2a2a9c"/>
<rect x="269.6" y="114.9" width="1.1" height="1.1" fill="#2a2a9c"/>
<rect x="266.4" y="125.8" width="1.1" height="1.1" fill="#2a2a9c"/>
<rect x="269.7" y="126.0" width="1.1" height="1.1" fill="#2a2a9c"/>
<rect x="270.2" y="120.8" width="1.1" height="1.1" fill="#2a2a9c"/>
<rect x="269.9" y="106.6" width="1.1" height="1.1" fill="#2a2a9c"/>
<rect x="270.3" y="119.5" width="1.1" height="1.1" fill="#2a2a9c"/>
<rect x="264.5" y="116.4" width="1.1" height="1.1" fill="#ffffff"/>
<rect x="259.4" y="123.3" width="1.1" height="1.1" fill="#ffffff"/>
<rect x="262.5" y="120.8" width="1.1" height="1.1" fill="#ffffff"/>
<rect x="262.8" y="124.2" width="1.1" height="1.1" fill="#ffffff"/>
<rect x="261.2" y="122.5" width="1.1" height="1.1" fill="#ffffff"/>
<rect x="263.0" y="122.7" width="1.1" height="1.1" fill="#ffffff"/>
<rect x="260.9" y="121.1" width="1.1" height="1.1" fill="#ffffff"/>
<rect x="262.0" y="116.1" width="1.1" height="1.1" fill="#ffffff"/>
<rect x="259.1" y="119.9" width="1.1" height="1.1" fill="#ffffff"/>
<rect x="258.1" y="123.4" width="1.1" height="1.1" fill="#ffffff"/>
<rect x="258.6" y="112.8" width="1.1" height="1.1" fill="#ffffff"/>
<rect x="258.3" y="123.6" width="1.1" height="1.1" fill="#ffffff"/>
<rect x="260.2" y="114.2" width="1.1" height="1.1" fill="#ffffff"/>
<rect x="257.7" y="112.9" width="1.1" height="1.1" fill="#ffffff"/>
<rect x="279.5" y="111.1" width="1.1" height="1.1" fill="#e3141b"/>
<rect x="279.7" y="108.5" width="1.1" height="1.1" fill="#e3141b"/>
<rect x="284.2" y="120.6" width="1.1" height="1.1" fill="#e3141b"/>
<rect x="284.1" y="110.3" width="1.1" height="1.1" fill="#e3141b"/>
<rect x="282.0" y="104.1" width="1.1" height="1.1" fill="#e3141b"/>
<rect x="288.2" y="117.3" width="1.1" height="1.1" fill="#e3141b"/>
<rect x="289.7" y="112.3" width="1.1" height="1.1" fill="#e3141b"/>
<rect x="279.7" y="122.0" width="1.1" height="1.1" fill="#e3141b"/>
<rect x="277.6" y="125.0" width="1.1" height="1.1" fill="#e3141b"/>
<rect x="283.1" y="109.1" width="1.1" height="1.1" fill="#e3141b"/>
<rect x="284.3" y="110.3" width="1.1" height="1.1" fill="#e3141b"/>
<rect x="279.9" y="119.8" width="1.1" height="1.1" fill="#e3141b"/>
<rect x="278.6" y="123.9" width="1.1" height="1.1" fill="#e3141b"/>
<rect x="276.5" y="118.9" width="1.1" height="1.1" fill="#e3141b"/>
<rect x="279.1" y="115.6" width="1.1" height="1.1" fill="#e3141b"/>
<rect x="281.2" y="125.8" width="1.1" height="1.1" fill="#e3141b"/>
<rect x="278.3" y="108.4" width="1.1" height="1.1" fill="#e3141b"/>
<rect x="280.1" y="119.3" width="1.1" height="1.1" fill="#e3141b"/>
<rect x="283.7" y="123.9" width="1.1" height="1.1" fill="#e3141b"/>
<rect x="281.6" y="113.7" width="1.1" height="1.1" fill="#e3141b"/>
<rect x="282.8" y="124.7" width="1.1" height="1.1" fill="#e3141b"/>
<rect x="286.6" y="119.0" width="1.1" height="1.1" fill="#e3141b"/>
<rect x="282.0" y="111.7" width="1.1" height="1.1" fill="#e3141b"/>
<rect x="280.7" y="125.1" width="1.1" height="1.1" fill="#e3141b"/>
<rect x="278.1" y="123.1" width="1.1" height="1.1" fill="#e3141b"/>
<rect x="277.9" y="120.4" width="1.1" height="1.1" fill="#e3141b"/>
<rect x="280.6" y="127.0" width="1.1" height="1.1" fill="#e3141b"/>
<rect x="277.6" y="94.0" width="1.1" height="1.1" fill="#e3141b"/>
<rect x="283.8" y="126.7" width="1.1" height="1.1" fill="#e3141b"/>
<rect x="287.8" y="125.9" width="1.1" height="1.1" fill="#e3141b"/>
<rect x="279.3" y="114.2" width="1.1" height="1.1" fill="#e3141b"/>
<rect x="283.3" y="108.5" width="1.1" height="1.1" fill="#e3141b"/>
<rect x="277.3" y="98.3" width="1.1" height="1.1" fill="#e3141b"/>
<rect x="277.2" y="118.9" width="1.1" height="1.1" fill="#e3141b"/>
<rect x="278.6" y="113.7" width="1.1" height="1.1" fill="#e3141b"/>
<rect x="283.4" y="116.2" width="1.1" height="1.1" fill="#e3141b"/>
<rect x="286.3" y="116.8" width="1.1" height="1.1" fill="#e3141b"/>
<rect x="280.0" y="107.1" width="1.1" height="1.1" fill="#e3141b"/>
<rect x="280.5" y="118.9" width="1.1" height="1.1" fill="#e3141b"/>
<rect x="281.5" y="120.1" width="1.1" height="1.1" fill="#e3141b"/>
<rect x="278.4" y="123.8" width="1.1" height="1.1" fill="#e3141b"/>
<rect x="277.4" y="125.3" width="1.1" height="1.1" fill="#e3141b"/>
<rect x="277.6" y="118.0" width="1.1" height="1.1" fill="#e3141b"/>
<rect x="282.5" y="118.8" width="1.1" height="1.1" fill="#e3141b"/>
<rect x="286.0" y="109.9" width="1.1" height="1.1" fill="#e3141b"/>
<rect x="277.0" y="113.8" width="1.1" height="1.1" fill="#e3141b"/>
<rect x="286.9" y="123.1" width="1.1" height="1.1" fill="#e3141b"/>
<rect x="276.4" y="109.8" width="1.1" height="1.1" fill="#e3141b"/>
<rect x="279.6" y="118.4" width="1.1" height="1.1" fill="#e3141b"/>
<rect x="283.3" y="107.9" width="1.1" height="1.1" fill="#e3141b"/>
<rect x="281.9" y="110.2" width="1.1" height="1.1" fill="#e3141b"/>
<rect x="279.6" y="115.8" width="1.1" height="1.1" fill="#e3141b"/>
<rect x="277.5" y="111.4" width="1.1" height="1.1" fill="#e3141b"/>
<rect x="281.3" y="117.5" width="1.1" height="1.1" fill="#e3141b"/>
<rect x="279.8" y="121.2" width="1.1" height="1.1" fill="#e3141b"/>
<rect x="278.2" y="117.6" width="1.1" height="1.1" fill="#e3141b"/>
<rect x="279.9" y="104.9" width="1.1" height="1.1" fill="#e3141b"/>
<rect x="278.4" y="121.3" width="1.1" height="1.1" fill="#e3141b"/>
<rect x="276.3" y="116.4" width="1.1" height="1.1" fill="#e3141b"/>
<rect x="280.1" y="126.1" width="1.1" height="1.1" fill="#e3141b"/>
<rect x="278.2" y="120.2" width="1.1" height="1.1" fill="#e3141b"/>
<rect x="286.6" y="124.0" width="1.1" height="1.1" fill="#e3141b"/>
<rect x="289.6" y="108.7" width="1.1" height="1.1" fill="#e3141b"/>
<rect x="281.4" y="120.0" width="1.1" height="1.1" fill="#e3141b"/>
<rect x="287.8" y="124.9" width="1.1" height="1.1" fill="#e3141b"/>
<rect x="277.0" y="114.3" width="1.1" height="1.1" fill="#e3141b"/>
<rect x="279.3" y="110.9" width="1.1" height="1.1" fill="#e3141b"/>
<rect x="279.7" y="122.0" width="1.1" height="1.1" fill="#e3141b"/>
<rect x="277.6" y="125.0" width="1.1" height="1.1" fill="#e3141b"/>
<rect x="285.5" y="114.5" width="1.1" height="1.1" fill="#e3141b"/>
<rect x="278.9" y="113.8" width="1.1" height="1.1" fill="#e3141b"/>
<rect x="281.1" y="117.2" width="1.1" height="1.1" fill="#e3141b"/>
<rect x="281.8" y="114.4" width="1.1" height="1.1" fill="#e3141b"/>
<rect x="285.1" y="115.9" width="1.1" height="1.1" fill="#e3141b"/>
<rect x="282.0" y="120.1" width="1.1" height="1.1" fill="#e3141b"/>
<rect x="285.9" y="118.1" width="1.1" height="1.1" fill="#e3141b"/>
<rect x="280.4" y="122.9" width="1.1" height="1.1" fill="#e3141b"/>
<rect x="278.6" y="102.7" width="1.1" height="1.1" fill="#e3141b"/>
<rect x="277.8" y="108.6" width="1.1" height="1.1" fill="#e3141b"/>
<rect x="282.1" y="112.6" width="1.1" height="1.1" fill="#e3141b"/>
<rect x="280.8" y="116.8" width="1.1" height="1.1" fill="#e3141b"/>
<rect x="279.8" y="111.5" width="1.1" height="1.1" fill="#e3141b"/>
<rect x="281.8" y="119.8" width="1.1" height="1.1" fill="#e3141b"/>
<rect x="278.3" y="108.5" width="1.1" height="1.1" fill="#e3141b"/>
<rect x="279.6" y="120.4" width="1.1" height="1.1" fill="#e3141b"/>
<rect x="282.6" y="120.9" width="1.1" height="1.1" fill="#e3141b"/>
<rect x="281.1" y="118.5" width="1.1" height="1.1" fill="#e3141b"/>
<rect x="283.0" y="102.4" width="1.1" height="1.1" fill="#e3141b"/>
<rect x="280.1" y="111.1" width="1.1" height="1.1" fill="#e3141b"/>
<rect x="277.4" y="115.3" width="1.1" height="1.1" fill="#e3141b"/>
<rect x="293.8" y="125.0" width="1.1" height="1.1" fill="#e3141b"/>
<rect x="284.2" y="123.5" width="1.1" height="1.1" fill="#e3141b"/>
<rect x="282.3" y="109.3" width="1.1" height="1.1" fill="#e3141b"/>
<rect x="283.6" y="121.8" width="1.1" height="1.1" fill="#e3141b"/>
<rect x="283.1" y="117.7" width="1.1" height="1.1" fill="#e3141b"/>
<rect x="286.2" y="122.2" width="1.1" height="1.1" fill="#e3141b"/>
<rect x="285.5" y="125.7" width="1.1" height="1.1" fill="#e3141b"/>
<rect x="280.0" y="114.2" width="1.1" height="1.1" fill="#e3141b"/>
<rect x="289.6" y="111.5" width="1.1" height="1.1" fill="#e3141b"/>
<rect x="278.7" y="109.4" width="1.1" height="1.1" fill="#e3141b"/>
<rect x="284.9" y="114.3" width="1.1" height="1.1" fill="#e3141b"/>
<rect x="289.7" y="103.0" width="1.1" height="1.1" fill="#e3141b"/>
<rect x="277.6" y="123.8" width="1.1" height="1.1" fill="#e3141b"/>
<rect x="277.3" y="115.1" width="1.1" height="1.1" fill="#e3141b"/>
<rect x="283.0" y="126.0" width="1.1" height="1.1" fill="#e3141b"/>
<rect x="285.1" y="118.2" width="1.1" height="1.1" fill="#e3141b"/>
<rect x="279.3" y="119.5" width="1.1" height="1.1" fill="#e3141b"/>
<rect x="278.0" y="107.6" width="1.1" height="1.1" fill="#e3141b"/>
<rect x="283.6" y="121.6" width="1.1" height="1.1" fill="#e3141b"/>
<rect x="278.5" y="105.9" width="1.1" height="1.1" fill="#e3141b"/>
<rect x="279.7" y="121.8" width="1.1" height="1.1" fill="#e3141b"/>
<rect x="284.0" y="112.0" width="1.1" height="1.1" fill="#e3141b"/>
<rect x="279.6" y="111.2" width="1.1" height="1.1" fill="#e3141b"/>
<rect x="284.4" y="124.1" width="1.1" height="1.1" fill="#e3141b"/>
<rect x="278.8" y="96.5" width="1.1" height="1.1" fill="#e3141b"/>
<rect x="281.8" y="113.4" width="1.1" height="1.1" fill="#e3141b"/>
<rect x="281.3" y="107.0" width="1.1" height="1.1" fill="#e3141b"/>
<rect x="281.6" y="125.1" width="1.1" height="1.1" fill="#e3141b"/>
<rect x="279.5" y="125.2" width="1.1" height="1.1" fill="#e3141b"/>
<rect x="279.3" y="117.3" width="1.1" height="1.1" fill="#e3141b"/>
<rect x="279.3" y="119.4" width="1.1" height="1.1" fill="#e3141b"/>
<rect x="279.8" y="120.6" width="1.1" height="1.1" fill="#e3141b"/>
<rect x="280.0" y="123.6" width="1.1" height="1.1" fill="#e3141b"/>
<rect x="286.6" y="126.7" width="1.1" height="1.1" fill="#e3141b"/>
<rect x="277.2" y="118.2" width="1.1" height="1.1" fill="#e3141b"/>
<rect x="278.6" y="114.1" width="1.1" height="1.1" fill="#e3141b"/>
<rect x="284.6" y="119.6" width="1.1" height="1.1" fill="#e3141b"/>
<rect x="279.6" y="117.5" width="1.1" height="1.1" fill="#e3141b"/>
<rect x="287.8" y="116.8" width="1.1" height="1.1" fill="#e3141b"/>
<rect x="287.7" y="119.2" width="1.1" height="1.1" fill="#e3141b"/>
<rect x="285.7" y="115.3" width="1.1" height="1.1" fill="#e3141b"/>
<rect x="284.0" y="109.6" width="1.1" height="1.1" fill="#e3141b"/>
<rect x="277.0" y="125.5" width="1.1" height="1.1" fill="#e3141b"/>
<rect x="292.2" y="124.9" width="1.1" height="1.1" fill="#e3141b"/>
<rect x="279.0" y="119.5" width="1.1" height="1.1" fill="#e3141b"/>
<rect x="279.1" y="123.1" width="1.1" height="1.1" fill="#e3141b"/>
<rect x="277.4" y="106.4" width="1.1" height="1.1" fill="#e3141b"/>
<rect x="278.4" y="121.4" width="1.1" height="1.1" fill="#e3141b"/>
<rect x="285.7" y="115.0" width="1.1" height="1.1" fill="#e3141b"/>
<rect x="283.0" y="105.1" width="1.1" height="1.1" fill="#e3141b"/>
<rect x="285.1" y="113.9" width="1.1" height="1.1" fill="#e3141b"/>
<rect x="283.0" y="104.9" width="1.1" height="1.1" fill="#e3141b"/>
<rect x="279.2" y="104.8" width="1.1" height="1.1" fill="#e3141b"/>
<rect x="279.5" y="109.6" width="1.1" height="1.1" fill="#e3141b"/>
<rect x="286.7" y="123.3" width="1.1" height="1.1" fill="#e3141b"/>
<rect x="288.7" y="117.7" width="1.1" height="1.1" fill="#e3141b"/>
<rect x="281.0" y="123.9" width="1.1" height="1.1" fill="#e3141b"/>
<rect x="276.6" y="120.5" width="1.1" height="1.1" fill="#e3141b"/>
<rect x="278.5" y="126.9" width="1.1" height="1.1" fill="#e3141b"/>
<rect x="279.8" y="125.7" width="1.1" height="1.1" fill="#e3141b"/>
<rect x="283.9" y="126.3" width="1.1" height="1.1" fill="#e3141b"/>
<rect x="288.8" y="121.2" width="1.1" height="1.1" fill="#e3141b"/>
<rect x="288.7" y="126.1" width="1.1" height="1.1" fill="#e3141b"/>
<rect x="284.4" y="124.0" width="1.1" height="1.1" fill="#e3141b"/>
<rect x="282.6" y="107.2" width="1.1" height="1.1" fill="#e3141b"/>
<rect x="281.0" y="118.2" width="1.1" height="1.1" fill="#e3141b"/>
<rect x="278.7" y="125.9" width="1.1" height="1.1" fill="#e3141b"/>
<rect x="282.3" y="114.1" width="1.1" height="1.1" fill="#e3141b"/>
<rect x="285.0" y="124.1" width="1.1" height="1.1" fill="#e3141b"/>
<rect x="282.4" y="101.7" width="1.1" height="1.1" fill="#e3141b"/>
<rect x="285.2" y="97.3" width="1.1" height="1.1" fill="#e3141b"/>
<rect x="283.7" y="126.1" width="1.1" height="1.1" fill="#e3141b"/>
<rect x="277.6" y="125.2" width="1.1" height="1.1" fill="#e3141b"/>
<rect x="278.1" y="110.6" width="1.1" height="1.1" fill="#e3141b"/>
<rect x="283.1" y="106.8" width="1.1" height="1.1" fill="#e3141b"/>
<rect x="281.2" y="116.9" width="1.1" height="1.1" fill="#e3141b"/>
<rect x="287.3" y="123.8" width="1.1" height="1.1" fill="#e3141b"/>
<rect x="277.9" y="114.6" width="1.1" height="1.1" fill="#e3141b"/>
<rect x="283.5" y="119.9" width="1.1" height="1.1" fill="#e3141b"/>
<rect x="278.8" y="118.2" width="1.1" height="1.1" fill="#e3141b"/>
<rect x="279.4" y="116.3" width="1.1" height="1.1" fill="#e3141b"/>
<rect x="281.4" y="126.8" width="1.1" height="1.1" fill="#e3141b"/>
<rect x="293.9" y="125.7" width="1.1" height="1.1" fill="#e3141b"/>
<rect x="282.8" y="109.5" width="1.1" height="1.1" fill="#e3141b"/>
<rect x="279.0" y="117.9" width="1.1" height="1.1" fill="#e3141b"/>
<rect x="278.9" y="111.9" width="1.1" height="1.1" fill="#e3141b"/>
<rect x="283.8" y="111.3" width="1.1" height="1.1" fill="#e3141b"/>
<rect x="286.3" y="122.3" width="1.1" height="1.1" fill="#e3141b"/>
<rect x="282.4" y="117.1" width="1.1" height="1.1" fill="#e3141b"/>
<rect x="281.5" y="123.9" width="1.1" height="1.1" fill="#e3141b"/>
<rect x="280.5" y="126.7" width="1.1" height="1.1" fill="#e3141b"/>
<rect x="284.1" y="119.3" width="1.1" height="1.1" fill="#e3141b"/>
<rect x="282.5" y="109.3" width="1.1" height="1.1" fill="#e3141b"/>
<rect x="283.8" y="118.2" width="1.1" height="1.1" fill="#e3141b"/>
<rect x="283.0" y="115.8" width="1.1" height="1.1" fill="#e3141b"/>
<rect x="279.1" y="111.8" width="1.1" height="1.1" fill="#e3141b"/>
<rect x="278.1" y="119.5" width="1.1" height="1.1" fill="#e3141b"/>
<rect x="279.8" y="115.5" width="1.1" height="1.1" fill="#e3141b"/>
<rect x="276.5" y="121.5" width="1.1" height="1.1" fill="#e3141b"/>
<rect x="277.0" y="124.1" width="1.1" height="1.1" fill="#e3141b"/>
<rect x="278.5" y="100.8" width="1.1" height="1.1" fill="#e3141b"/>
<rect x="279.7" y="117.5" width="1.1" height="1.1" fill="#e3141b"/>
<rect x="281.3" y="108.1" width="1.1" height="1.1" fill="#e3141b"/>
<rect x="280.9" y="123.5" width="1.1" height="1.1" fill="#e3141b"/>
<rect x="278.4" y="115.2" width="1.1" height="1.1" fill="#e3141b"/>
<rect x="279.1" y="115.5" width="1.1" height="1.1" fill="#e3141b"/>
<rect x="285.8" y="105.3" width="1.1" height="1.1" fill="#e3141b"/>
<rect x="284.2" y="121.8" width="1.1" height="1.1" fill="#e3141b"/>
<rect x="279.4" y="125.6" width="1.1" height="1.1" fill="#e3141b"/>
<rect x="279.4" y="112.5" width="1.1" height="1.1" fill="#e3141b"/>
<rect x="282.4" y="120.7" width="1.1" height="1.1" fill="#e3141b"/>
<rect x="282.7" y="126.0" width="1.1" height="1.1" fill="#e3141b"/>
<rect x="289.1" y="111.6" width="1.1" height="1.1" fill="#e3141b"/>
<rect x="283.6" y="125.4" width="1.1" height="1.1" fill="#e3141b"/>
<rect x="278.8" y="124.1" width="1.1" height="1.1" fill="#e3141b"/>
<rect x="279.0" y="120.5" width="1.1" height="1.1" fill="#e3141b"/>
<rect x="276.9" y="125.3" width="1.1" height="1.1" fill="#e3141b"/>
<rect x="286.1" y="126.5" width="1.1" height="1.1" fill="#e3141b"/>
<rect x="288.5" y="105.4" width="1.1" height="1.1" fill="#e3141b"/>
<rect x="287.4" y="114.3" width="1.1" height="1.1" fill="#e3141b"/>
<rect x="277.1" y="125.4" width="1.1" height="1.1" fill="#e3141b"/>
<rect x="277.2" y="118.3" width="1.1" height="1.1" fill="#e3141b"/>
<rect x="276.7" y="119.4" width="1.1" height="1.1" fill="#e3141b"/>
<rect x="286.9" y="120.6" width="1.1" height="1.1" fill="#e3141b"/>
<rect x="279.2" y="104.1" width="1.1" height="1.1" fill="#e3141b"/>
<rect x="276.6" y="122.1" width="1.1" height="1.1" fill="#e3141b"/>
<rect x="283.3" y="113.4" width="1.1" height="1.1" fill="#e3141b"/>
<rect x="290.9" y="120.2" width="1.1" height="1.1" fill="#e3141b"/>
<rect x="276.7" y="96.1" width="1.1" height="1.1" fill="#e3141b"/>
<rect x="276.5" y="125.3" width="1.1" height="1.1" fill="#e3141b"/>
<rect x="285.6" y="125.4" width="1.1" height="1.1" fill="#e3141b"/>
<rect x="277.3" y="122.6" width="1.1" height="1.1" fill="#e3141b"/>
<rect x="280.2" y="109.1" width="1.1" height="1.1" fill="#e3141b"/>
<rect x="282.8" y="106.5" width="1.1" height="1.1" fill="#e3141b"/>
<rect x="278.5" y="126.7" width="1.1" height="1.1" fill="#e3141b"/>
<rect x="282.0" y="115.4" width="1.1" height="1.1" fill="#e3141b"/>
<rect x="285.3" y="120.3" width="1.1" height="1.1" fill="#e3141b"/>
<rect x="283.4" y="110.1" width="1.1" height="1.1" fill="#e3141b"/>
<rect x="282.4" y="114.0" width="1.1" height="1.1" fill="#e3141b"/>
<rect x="280.9" y="118.0" width="1.1" height="1.1" fill="#e3141b"/>
<rect x="284.8" y="113.2" width="1.1" height="1.1" fill="#e3141b"/>
<rect x="287.0" y="119.9" width="1.1" height="1.1" fill="#e3141b"/>
<rect x="281.2" y="123.0" width="1.1" height="1.1" fill="#e3141b"/>
<rect x="292.5" y="115.0" width="1.1" height="1.1" fill="#e3141b"/>
<rect x="279.8" y="105.5" width="1.1" height="1.1" fill="#e3141b"/>
<rect x="280.6" y="112.8" width="1.1" height="1.1" fill="#e3141b"/>
<rect x="288.4" y="123.9" width="1.1" height="1.1" fill="#e3141b"/>
<rect x="280.7" y="120.9" width="1.1" height="1.1" fill="#e3141b"/>
<rect x="288.5" y="116.2" width="1.1" height="1.1" fill="#e3141b"/>
<rect x="283.3" y="114.3" width="1.1" height="1.1" fill="#e3141b"/>
<rect x="287.3" y="111.8" width="1.1" height="1.1" fill="#e3141b"/>
<rect x="278.1" y="117.9" width="1.1" height="1.1" fill="#e3141b"/>
<rect x="281.3" y="127.0" width="1.1" height="1.1" fill="#e3141b"/>
<rect x="283.9" y="119.6" width="1.1" height="1.1" fill="#e3141b"/>
<rect x="281.7" y="104.1" width="1.1" height="1.1" fill="#e3141b"/>
<rect x="288.1" y="121.1" width="1.1" height="1.1" fill="#e3141b"/>
<rect x="281.2" y="104.7" width="1.1" height="1.1" fill="#e3141b"/>
<rect x="280.9" y="122.9" width="1.1" height="1.1" fill="#e3141b"/>
<rect x="283.3" y="109.5" width="1.1" height="1.1" fill="#e3141b"/>
<rect x="282.0" y="102.7" width="1.1" height="1.1" fill="#e3141b"/>
<rect x="277.8" y="122.9" width="1.1" height="1.1" fill="#e3141b"/>
<rect x="287.2" y="120.0" width="1.1" height="1.1" fill="#e3141b"/>
<rect x="279.6" y="108.0" width="1.1" height="1.1" fill="#e3141b"/>
<rect x="280.6" y="123.4" width="1.1" height="1.1" fill="#e3141b"/>
<rect x="283.9" y="115.8" width="1.1" height="1.1" fill="#e3141b"/>
<rect x="280.6" y="125.3" width="1.1" height="1.1" fill="#e3141b"/>
<rect x="276.6" y="107.0" width="1.1" height="1.1" fill="#e3141b"/>
<rect x="278.1" y="114.2" width="1.1" height="1.1" fill="#e3141b"/>
<rect x="286.3" y="115.7" width="1.1" height="1.1" fill="#e3141b"/>
<rect x="276.9" y="118.4" width="1.1" height="1.1" fill="#e3141b"/>
<rect x="288.4" y="114.8" width="1.1" height="1.1" fill="#e3141b"/>
<rect x="282.2" y="117.4" width="1.1" height="1.1" fill="#e3141b"/>
<rect x="284.8" y="124.7" width="1.1" height="1.1" fill="#e3141b"/>
<rect x="277.8" y="119.8" width="1.1" height="1.1" fill="#e3141b"/>
<rect x="280.5" y="110.1" width="1.1" height="1.1" fill="#e3141b"/>
<rect x="281.7" y="115.3" width="1.1" height="1.1" fill="#e3141b"/>
<rect x="282.7" y="118.7" width="1.1" height="1.1" fill="#e3141b"/>
<rect x="277.4" y="124.1" width="1.1" height="1.1" fill="#e3141b"/>
<rect x="282.5" y="126.8" width="1.1" height="1.1" fill="#e3141b"/>
<rect x="283.5" y="116.5" width="1.1" height="1.1" fill="#e3141b"/>
<rect x="277.1" y="120.2" width="1.1" height="1.1" fill="#e3141b"/>
<rect x="281.1" y="120.7" width="1.1" height="1.1" fill="#e3141b"/>
<rect x="277.6" y="126.8" width="1.1" height="1.1" fill="#e3141b"/>
<rect x="281.2" y="116.7" width="1.1" height="1.1" fill="#e3141b"/>
<rect x="280.9" y="123.2" width="1.1" height="1.1" fill="#e3141b"/>
<rect x="277.5" y="114.6" width="1.1" height="1.1" fill="#e3141b"/>
<rect x="286.7" y="120.3" width="1.1" height="1.1" fill="#e3141b"/>
<rect x="283.3" y="99.0" width="1.1" height="1.1" fill="#e3141b"/>
<rect x="276.3" y="123.7" width="1.1" height="1.1" fill="#e3141b"/>
<rect x="277.5" y="119.8" width="1.1" height="1.1" fill="#e3141b"/>
<rect x="278.1" y="125.1" width="1.1" height="1.1" fill="#e3141b"/>
<rect x="288.6" y="118.5" width="1.1" height="1.1" fill="#e3141b"/>
<rect x="291.5" y="119.5" width="1.1" height="1.1" fill="#e3141b"/>
<rect x="278.2" y="124.7" width="1.1" height="1.1" fill="#e3141b"/>
<rect x="281.6" y="120.1" width="1.1" height="1.1" fill="#e3141b"/>
<rect x="288.2" y="106.3" width="1.1" height="1.1" fill="#e3141b"/>
<rect x="276.6" y="111.6" width="1.1" height="1.1" fill="#e3141b"/>
<rect x="286.6" y="103.8" width="1.1" height="1.1" fill="#e3141b"/>
<rect x="279.4" y="116.6" width="1.1" height="1.1" fill="#e3141b"/>
<rect x="279.9" y="124.8" width="1.1" height="1.1" fill="#e3141b"/>
<rect x="276.6" y="123.7" width="1.1" height="1.1" fill="#e3141b"/>
<rect x="276.5" y="115.9" width="1.1" height="1.1" fill="#e3141b"/>
<rect x="287.8" y="112.1" width="1.1" height="1.1" fill="#e3141b"/>
<rect x="277.3" y="123.9" width="1.1" height="1.1" fill="#e3141b"/>
<rect x="278.6" y="108.7" width="1.1" height="1.1" fill="#e3141b"/>
<rect x="287.7" y="99.3" width="1.1" height="1.1" fill="#e3141b"/>
<rect x="279.7" y="124.7" width="1.1" height="1.1" fill="#e3141b"/>
<rect x="276.7" y="98.7" width="1.1" height="1.1" fill="#e3141b"/>
<rect x="285.2" y="110.3" width="1.1" height="1.1" fill="#fbf0c0"/>
<rect x="284.4" y="120.9" width="1.1" height="1.1" fill="#fbf0c0"/>
<rect x="279.5" y="110.9" width="1.1" height="1.1" fill="#fbf0c0"/>
<rect x="281.0" y="106.3" width="1.1" height="1.1" fill="#fbf0c0"/>
<rect x="283.3" y="107.3" width="1.1" height="1.1" fill="#fbf0c0"/>
<rect x="280.8" y="106.7" width="1.1" height="1.1" fill="#fbf0c0"/>
<rect x="285.2" y="103.7" width="1.1" height="1.1" fill="#fbf0c0"/>
<rect x="285.6" y="107.9" width="1.1" height="1.1" fill="#fbf0c0"/>
<rect x="278.8" y="124.8" width="1.1" height="1.1" fill="#fbf0c0"/>
<rect x="280.7" y="124.9" width="1.1" height="1.1" fill="#fbf0c0"/>
<rect x="287.1" y="123.9" width="1.1" height="1.1" fill="#fbf0c0"/>
<rect x="279.8" y="113.7" width="1.1" height="1.1" fill="#fbf0c0"/>
<rect x="279.4" y="124.8" width="1.1" height="1.1" fill="#fbf0c0"/>
<rect x="286.9" y="117.9" width="1.1" height="1.1" fill="#fbf0c0"/>
<rect x="283.0" y="111.3" width="1.1" height="1.1" fill="#fbf0c0"/>
<rect x="286.7" y="114.4" width="1.1" height="1.1" fill="#fbf0c0"/>
<rect x="284.7" y="106.7" width="1.1" height="1.1" fill="#fbf0c0"/>
<rect x="280.7" y="104.8" width="1.1" height="1.1" fill="#fbf0c0"/>
<rect x="285.6" y="116.2" width="1.1" height="1.1" fill="#fbf0c0"/>
<rect x="279.9" y="123.5" width="1.1" height="1.1" fill="#fbf0c0"/>
<rect x="281.1" y="112.9" width="1.1" height="1.1" fill="#fbf0c0"/>
<rect x="280.0" y="109.7" width="1.1" height="1.1" fill="#fbf0c0"/>
<rect x="286.8" y="111.1" width="1.1" height="1.1" fill="#fbf0c0"/>
<rect x="280.1" y="114.7" width="1.1" height="1.1" fill="#fbf0c0"/>
<rect x="281.6" y="124.2" width="1.1" height="1.1" fill="#fbf0c0"/>
<rect x="279.6" y="126.0" width="1.1" height="1.1" fill="#fbf0c0"/>
<rect x="279.0" y="124.0" width="1.1" height="1.1" fill="#fbf0c0"/>
<rect x="285.1" y="108.3" width="1.1" height="1.1" fill="#fbf0c0"/>
<rect x="283.2" y="110.0" width="1.1" height="1.1" fill="#fbf0c0"/>
<rect x="281.0" y="108.1" width="1.1" height="1.1" fill="#fbf0c0"/>
<rect x="282.1" y="126.2" width="1.1" height="1.1" fill="#fbf0c0"/>
<rect x="288.4" y="124.7" width="1.1" height="1.1" fill="#fbf0c0"/>
<rect x="279.4" y="110.1" width="1.1" height="1.1" fill="#fbf0c0"/>
<rect x="287.4" y="104.8" width="1.1" height="1.1" fill="#fbf0c0"/>
<rect x="285.7" y="110.2" width="1.1" height="1.1" fill="#fbf0c0"/>
<rect x="288.2" y="103.8" width="1.1" height="1.1" fill="#fbf0c0"/>
<rect x="286.5" y="111.3" width="1.1" height="1.1" fill="#fbf0c0"/>
<rect x="279.9" y="103.5" width="1.1" height="1.1" fill="#fbf0c0"/>
<rect x="286.8" y="115.6" width="1.1" height="1.1" fill="#fbf0c0"/>
<rect x="280.3" y="113.5" width="1.1" height="1.1" fill="#fbf0c0"/>
<rect x="287.6" y="108.5" width="1.1" height="1.1" fill="#fbf0c0"/>
<rect x="284.2" y="106.6" width="1.1" height="1.1" fill="#fbf0c0"/>
<rect x="280.3" y="121.2" width="1.1" height="1.1" fill="#fbf0c0"/>
<rect x="285.6" y="108.0" width="1.1" height="1.1" fill="#fbf0c0"/>
<rect x="279.2" y="105.5" width="1.1" height="1.1" fill="#fbf0c0"/>
<line x1="228.6" y1="47.5" x2="228.6" y2="141.1" stroke="#1e1e1e" stroke-width="1.15"/>
<line x1="228.2" y1="140.7" x2="321.6" y2="140.7" stroke="#1e1e1e" stroke-width="1.15"/>
<line x1="226" y1="49.7" x2="228.6" y2="49.7" stroke="#1e1e1e" stroke-width="0.95"/>
<text x="223.2" y="51.800000000000004" font-size="6.2" text-anchor="end" stroke="#262626" stroke-width="0.04">14</text>
<line x1="226" y1="69.05" x2="228.6" y2="69.05" stroke="#1e1e1e" stroke-width="0.95"/>
<text x="223.2" y="71.14999999999999" font-size="6.2" text-anchor="end" stroke="#262626" stroke-width="0.04">11</text>
<line x1="226" y1="88.4" x2="228.6" y2="88.4" stroke="#1e1e1e" stroke-width="0.95"/>
<text x="223.2" y="90.5" font-size="6.2" text-anchor="end" stroke="#262626" stroke-width="0.04">8</text>
<line x1="226" y1="107.75" x2="228.6" y2="107.75" stroke="#1e1e1e" stroke-width="0.95"/>
<text x="223.2" y="109.85" font-size="6.2" text-anchor="end" stroke="#262626" stroke-width="0.04">5</text>
<line x1="226" y1="127.1" x2="228.6" y2="127.1" stroke="#1e1e1e" stroke-width="0.95"/>
<text x="223.2" y="129.2" font-size="6.2" text-anchor="end" stroke="#262626" stroke-width="0.04">2</text>
<line x1="226" y1="140.0" x2="228.6" y2="140.0" stroke="#1e1e1e" stroke-width="0.95"/>
<text x="223.2" y="142.1" font-size="6.2" text-anchor="end" stroke="#262626" stroke-width="0.04">0</text>
<line x1="228.6" y1="140.7" x2="228.6" y2="143.4" stroke="#1e1e1e" stroke-width="0.95"/>
<text x="228.6" y="151.6" font-size="6.2" text-anchor="middle" stroke="#262626" stroke-width="0.04">−1</text>
<line x1="273.8" y1="140.7" x2="273.8" y2="143.4" stroke="#1e1e1e" stroke-width="0.95"/>
<text x="273.8" y="151.6" font-size="6.2" text-anchor="middle" stroke="#262626" stroke-width="0.04">0</text>
<line x1="319.3" y1="140.7" x2="319.3" y2="143.4" stroke="#1e1e1e" stroke-width="0.95"/>
<text x="319.3" y="151.6" font-size="6.2" text-anchor="middle" stroke="#262626" stroke-width="0.04">1</text>
<text x="274.3" y="164.0" font-size="7.8" text-anchor="middle" textLength="25.4" lengthAdjust="spacingAndGlyphs" stroke="#262626" stroke-width="0.04">log2(FC)</text>
<text transform="translate(210.8,96) rotate(-90)" font-size="7.6" text-anchor="middle" textLength="46" lengthAdjust="spacingAndGlyphs" fill="#262626" stroke="#262626" stroke-width="0.04">-log10(<tspan font-style="italic">P</tspan> value)</text>
<text x="238.3" y="101.5" font-size="6.9" textLength="32.8" lengthAdjust="spacingAndGlyphs" fill="#2f62a3" stroke="#2f62a3" stroke-width="0.04">Lst1, Lgals1</text>
<text x="232.5" y="108.5" font-size="6.9" textLength="25.5" lengthAdjust="spacingAndGlyphs" fill="#2f62a3" stroke="#2f62a3" stroke-width="0.04">Arhgap15</text>
<text x="236" y="114.8" font-size="6.9" textLength="15.5" lengthAdjust="spacingAndGlyphs" fill="#2f62a3" stroke="#2f62a3" stroke-width="0.04">Ifi203</text>
<text x="242.3" y="121" font-size="6.9" textLength="13.8" lengthAdjust="spacingAndGlyphs" fill="#2f62a3" stroke="#2f62a3" stroke-width="0.04">Mllt3</text>
<line x1="257.5" y1="106.5" x2="263" y2="104.5" stroke="#2f62a3" stroke-width="0.5"/>
<line x1="251.5" y1="113" x2="256" y2="112.5" stroke="#2f62a3" stroke-width="0.5"/>
<line x1="256.2" y1="119" x2="262" y2="118" stroke="#2f62a3" stroke-width="0.5"/>
<text x="299" y="69.6" font-size="6.9" textLength="24.3" lengthAdjust="spacingAndGlyphs" fill="#d1234f" stroke="#d1234f" stroke-width="0.04">Aldh1a1</text>
<text x="282" y="86.8" font-size="6.9" textLength="13.9" lengthAdjust="spacingAndGlyphs" fill="#d1234f" stroke="#d1234f" stroke-width="0.04">Rorb</text>
<text x="299.9" y="84.4" font-size="6.9" textLength="20.1" lengthAdjust="spacingAndGlyphs" fill="#d1234f" stroke="#d1234f" stroke-width="0.04">Sult1a1</text>
<text x="303.3" y="90" font-size="6.9" textLength="19.5" lengthAdjust="spacingAndGlyphs" fill="#d1234f" stroke="#d1234f" stroke-width="0.04">Cavin2</text>
<text x="311" y="97.6" font-size="6.9" textLength="17.8" lengthAdjust="spacingAndGlyphs" fill="#d1234f" stroke="#d1234f" stroke-width="0.04">Nupr1</text>
<text x="297.2" y="101.2" font-size="6.9" textLength="12.8" lengthAdjust="spacingAndGlyphs" fill="#d1234f" stroke="#d1234f" stroke-width="0.04">Selp</text>
<text x="314" y="104.3" font-size="6.9" textLength="14.8" lengthAdjust="spacingAndGlyphs" fill="#d1234f" stroke="#d1234f" stroke-width="0.04">Prtn3</text>
<text x="302" y="108.6" font-size="6.9" textLength="10.7" lengthAdjust="spacingAndGlyphs" fill="#d1234f" stroke="#d1234f" stroke-width="0.04">Mt1</text>
<text x="301.2" y="122.8" font-size="6.9" textLength="14.2" lengthAdjust="spacingAndGlyphs" fill="#d1234f" stroke="#d1234f" stroke-width="0.04">Nrgn</text>
<circle cx="304.2" cy="71.7" r="0.6" fill="#d1234f"/>
<circle cx="298.5" cy="85" r="0.6" fill="#d1234f"/>
<circle cx="302" cy="89" r="0.6" fill="#d1234f"/>
<circle cx="296" cy="97" r="0.6" fill="#d1234f"/>
<circle cx="313.5" cy="102" r="0.6" fill="#d1234f"/>
<circle cx="301" cy="104.5" r="0.6" fill="#d1234f"/>
<circle cx="299.5" cy="120" r="0.6" fill="#d1234f"/>
<circle cx="309.5" cy="96" r="0.6" fill="#d1234f"/>
<circle cx="296.6" cy="86" r="0.6" fill="#d1234f"/>
<text transform="translate(336.67,16.1) scale(0.910,1)" font-size="11.6" font-weight="bold" fill="#000">C</text>
<line x1="377" y1="26.8" x2="377" y2="128.9" stroke="#1e1e1e" stroke-width="1.15"/>
<line x1="376.6" y1="128.5" x2="480.5" y2="128.5" stroke="#1e1e1e" stroke-width="1.15"/>
<line x1="374.4" y1="42.80000000000001" x2="377" y2="42.80000000000001" stroke="#1e1e1e" stroke-width="0.95"/>
<text x="371.8" y="45.000000000000014" font-size="6.4" text-anchor="end" stroke="#262626" stroke-width="0.04">5</text>
<line x1="374.4" y1="68.9" x2="377" y2="68.9" stroke="#1e1e1e" stroke-width="0.95"/>
<text x="371.8" y="71.10000000000001" font-size="6.4" text-anchor="end" stroke="#262626" stroke-width="0.04">0</text>
<line x1="374.4" y1="95.0" x2="377" y2="95.0" stroke="#1e1e1e" stroke-width="0.95"/>
<text x="371.8" y="97.2" font-size="6.4" text-anchor="end" stroke="#262626" stroke-width="0.04">−5</text>
<line x1="374.4" y1="121.1" x2="377" y2="121.1" stroke="#1e1e1e" stroke-width="0.95"/>
<text x="371.8" y="123.3" font-size="6.4" text-anchor="end" stroke="#262626" stroke-width="0.04">−10</text>
<line x1="381.8" y1="128.5" x2="381.8" y2="131.2" stroke="#1e1e1e" stroke-width="0.95"/>
<text x="381.8" y="140.6" font-size="6.4" text-anchor="middle" stroke="#262626" stroke-width="0.04">−10</text>
<line x1="400.65" y1="128.5" x2="400.65" y2="131.2" stroke="#1e1e1e" stroke-width="0.95"/>
<text x="400.65" y="140.6" font-size="6.4" text-anchor="middle" stroke="#262626" stroke-width="0.04">−5</text>
<line x1="419.5" y1="128.5" x2="419.5" y2="131.2" stroke="#1e1e1e" stroke-width="0.95"/>
<text x="419.5" y="140.6" font-size="6.4" text-anchor="middle" stroke="#262626" stroke-width="0.04">0</text>
<line x1="438.35" y1="128.5" x2="438.35" y2="131.2" stroke="#1e1e1e" stroke-width="0.95"/>
<text x="438.35" y="140.6" font-size="6.4" text-anchor="middle" stroke="#262626" stroke-width="0.04">5</text>
<line x1="457.2" y1="128.5" x2="457.2" y2="131.2" stroke="#1e1e1e" stroke-width="0.95"/>
<text x="457.2" y="140.6" font-size="6.4" text-anchor="middle" stroke="#262626" stroke-width="0.04">10</text>
<line x1="476.05" y1="128.5" x2="476.05" y2="131.2" stroke="#1e1e1e" stroke-width="0.95"/>
<text x="476.05" y="140.6" font-size="6.4" text-anchor="middle" stroke="#262626" stroke-width="0.04">15</text>
<text x="429.1" y="152.2" font-size="7.9" text-anchor="middle" textLength="41.2" lengthAdjust="spacingAndGlyphs" stroke="#262626" stroke-width="0.04">PC1 (49.13%)</text>
<text transform="translate(355.8,77.3) rotate(-90)" font-size="7.9" text-anchor="middle" textLength="42" lengthAdjust="spacingAndGlyphs" stroke="#262626" stroke-width="0.04">PC2 (16.32%)</text>
<path d="M382.70,33.50L388.90,33.50L385.80,28.10Z" fill="#e2dc1c"/>
<path d="M383.10,38.10L389.30,38.10L386.20,32.70Z" fill="#e2dc1c"/>
<path d="M379.20,40.90L385.40,40.90L382.30,35.50Z" fill="#e2dc1c"/>
<path d="M388.10,61.20L394.30,61.20L391.20,55.80Z" fill="#b9cc2c"/>
<path d="M391.90,98.90L398.10,98.90L395.00,93.50Z" fill="#e2dc1c"/>
<path d="M405.20,111.30L411.40,111.30L408.30,105.90Z" fill="#e2dc1c"/>
<path d="M406.10,113.50L412.30,113.50L409.20,108.10Z" fill="#d9d822"/>
<path d="M389.90,126.10L396.10,126.10L393.00,120.70Z" fill="#d5d421"/>
<circle cx="464.6" cy="46.2" r="2.6" fill="#3b528b"/>
<circle cx="475.7" cy="53.1" r="2.6" fill="#3e4c8a"/>
<circle cx="462" cy="55.8" r="2.6" fill="#1f9e89"/>
<circle cx="470.8" cy="71.8" r="2.6" fill="#3a0f4f"/>
<circle cx="467.7" cy="83.5" r="2.6" fill="#22a884"/>
<defs><linearGradient id="vir" x1="0" y1="1" x2="0" y2="0"><stop offset="0" stop-color="#2b0b4e"/><stop offset="0.12" stop-color="#352f78"/><stop offset="0.28" stop-color="#30548c"/><stop offset="0.42" stop-color="#29738e"/><stop offset="0.55" stop-color="#22908a"/><stop offset="0.66" stop-color="#4aa96e"/><stop offset="0.78" stop-color="#a4c63c"/><stop offset="0.9" stop-color="#dcd92a"/><stop offset="1" stop-color="#f4e61e"/></linearGradient></defs>
<rect x="489.50" y="64.30" width="4.70" height="53.00" fill="url(#vir)"/>
<line x1="494.2" y1="64.7" x2="496.6" y2="64.7" stroke="#1e1e1e" stroke-width="0.95"/>
<text x="499.3" y="66.9" font-size="6.2" textLength="13.3" lengthAdjust="spacing" stroke="#262626" stroke-width="0.04">1.00</text>
<line x1="494.2" y1="75.17" x2="496.6" y2="75.17" stroke="#1e1e1e" stroke-width="0.95"/>
<text x="499.3" y="77.37" font-size="6.2" textLength="13.3" lengthAdjust="spacing" stroke="#262626" stroke-width="0.04">0.80</text>
<line x1="494.2" y1="85.64" x2="496.6" y2="85.64" stroke="#1e1e1e" stroke-width="0.95"/>
<text x="499.3" y="87.84" font-size="6.2" textLength="13.3" lengthAdjust="spacing" stroke="#262626" stroke-width="0.04">0.60</text>
<line x1="494.2" y1="96.11000000000001" x2="496.6" y2="96.11000000000001" stroke="#1e1e1e" stroke-width="0.95"/>
<text x="499.3" y="98.31000000000002" font-size="6.2" textLength="13.3" lengthAdjust="spacing" stroke="#262626" stroke-width="0.04">0.40</text>
<line x1="494.2" y1="106.58000000000001" x2="496.6" y2="106.58000000000001" stroke="#1e1e1e" stroke-width="0.95"/>
<text x="499.3" y="108.78000000000002" font-size="6.2" textLength="13.3" lengthAdjust="spacing" stroke="#262626" stroke-width="0.04">0.20</text>
<line x1="494.2" y1="117.05000000000001" x2="496.6" y2="117.05000000000001" stroke="#1e1e1e" stroke-width="0.95"/>
<text x="499.3" y="119.25000000000001" font-size="6.2" textLength="13.3" lengthAdjust="spacing" stroke="#262626" stroke-width="0.04">0.00</text>
<text x="487" y="50.9" font-size="7.0" textLength="25" lengthAdjust="spacingAndGlyphs" stroke="#262626" stroke-width="0.04">AS score</text>
<text x="487" y="58.6" font-size="7.0" textLength="14.5" lengthAdjust="spacingAndGlyphs" stroke="#262626" stroke-width="0.04">older</text>
<text x="487" y="125.4" font-size="7.0" textLength="23.2" lengthAdjust="spacingAndGlyphs" stroke="#262626" stroke-width="0.04">Younger</text>
<circle cx="375.4" cy="161.4" r="2.7" fill="#000"/>
<text x="380.7" y="163.8" font-size="6.4" textLength="32.8" lengthAdjust="spacingAndGlyphs" stroke="#262626" stroke-width="0.04">Young HSC</text>
<path d="M420.30,163.72L426.10,163.72L423.20,158.68Z" fill="#000"/>
<text x="428.5" y="163.8" font-size="6.4" textLength="51.5" lengthAdjust="spacingAndGlyphs" stroke="#262626" stroke-width="0.04">Middle-aged HSC</text>
<text transform="translate(6.74,191.4) scale(1.110,1)" font-size="11.6" font-weight="bold" fill="#000">D</text>
<rect x="179.60" y="194.40" width="42.90" height="8.30" fill="#0e4d92"/>
<text x="173.4" y="200.8" font-size="6.4" text-anchor="end" textLength="141.3" lengthAdjust="spacing" stroke="#262626" stroke-width="0.04">GO:0051249 regulation of lymphocyte activation</text>
<line x1="176.79999999999998" y1="198.5" x2="179.6" y2="198.5" stroke="#1e1e1e" stroke-width="0.95"/>
<text x="221.8" y="200.9" font-size="7.0" text-anchor="end" textLength="20.2" lengthAdjust="spacingAndGlyphs" fill="#fff" stroke="#fff" stroke-width="0.04">48/473</text>
<text x="224.0" y="200.8" font-size="6.4" fill="#262626" stroke="#262626" stroke-width="0.04"><tspan font-style="italic">P</tspan> = 2.49E-9</text>
<rect x="179.60" y="204.40" width="37.20" height="8.30" fill="#0e4d92"/>
<text x="173.4" y="210.8" font-size="6.4" text-anchor="end" textLength="130.1" lengthAdjust="spacing" stroke="#262626" stroke-width="0.04">GO:0019222 regulation of metabolic process</text>
<line x1="176.79999999999998" y1="208.5" x2="179.6" y2="208.5" stroke="#1e1e1e" stroke-width="0.95"/>
<text x="216.10000000000002" y="210.9" font-size="7.0" text-anchor="end" textLength="27.5" lengthAdjust="spacingAndGlyphs" fill="#fff" stroke="#fff" stroke-width="0.04">276/5283</text>
<text x="218.3" y="210.8" font-size="6.4" fill="#262626" stroke="#262626" stroke-width="0.04"><tspan font-style="italic">P</tspan> = 3.14E-8</text>
<rect x="179.60" y="214.40" width="36.70" height="8.30" fill="#0e4d92"/>
<text x="173.4" y="220.8" font-size="6.4" text-anchor="end" textLength="107.9" lengthAdjust="spacingAndGlyphs" stroke="#262626" stroke-width="0.04">GO:0002376 immune system process</text>
<line x1="176.79999999999998" y1="218.5" x2="179.6" y2="218.5" stroke="#1e1e1e" stroke-width="0.95"/>
<text x="215.60000000000002" y="220.9" font-size="7.0" text-anchor="end" textLength="24.2" lengthAdjust="spacingAndGlyphs" fill="#fff" stroke="#fff" stroke-width="0.04">98/1415</text>
<text x="217.8" y="220.8" font-size="6.4" fill="#262626" stroke="#262626" stroke-width="0.04"><tspan font-style="italic">P</tspan> = 1.68E-6</text>
<rect x="179.60" y="224.40" width="31.30" height="8.30" fill="#0e4d92"/>
<text x="173.4" y="230.8" font-size="6.4" text-anchor="end" textLength="153.9" lengthAdjust="spacing" stroke="#262626" stroke-width="0.04">GO:0045619 regulation of lymphocyte differentiation</text>
<line x1="176.79999999999998" y1="228.5" x2="179.6" y2="228.5" stroke="#1e1e1e" stroke-width="0.95"/>
<text x="210.20000000000002" y="230.9" font-size="7.0" text-anchor="end" textLength="20.7" lengthAdjust="spacingAndGlyphs" fill="#fff" stroke="#fff" stroke-width="0.04">25/203</text>
<text x="212.4" y="230.8" font-size="6.4" fill="#262626" stroke="#262626" stroke-width="0.04"><tspan font-style="italic">P</tspan> = 5.26E-7</text>
<rect x="179.60" y="234.40" width="30.80" height="8.30" fill="#0e4d92"/>
<text x="173.4" y="240.8" font-size="6.4" text-anchor="end" textLength="115.3" lengthAdjust="spacing" stroke="#262626" stroke-width="0.04">GO:0030098 lymphocyte differentiation</text>
<line x1="176.79999999999998" y1="238.5" x2="179.6" y2="238.5" stroke="#1e1e1e" stroke-width="0.95"/>
<text x="209.70000000000002" y="240.9" font-size="7.0" text-anchor="end" textLength="21.2" lengthAdjust="spacingAndGlyphs" fill="#fff" stroke="#fff" stroke-width="0.04">23/244</text>
<text x="211.9" y="240.8" font-size="6.4" fill="#262626" stroke="#262626" stroke-width="0.04"><tspan font-style="italic">P</tspan> = 1.17E-4</text>
<rect x="179.60" y="244.40" width="30.80" height="8.30" fill="#0e4d92"/>
<text x="173.4" y="250.8" font-size="6.4" text-anchor="end" textLength="123.0" lengthAdjust="spacing" stroke="#262626" stroke-width="0.04">GO:0050864 regulation of B cell activation</text>
<line x1="176.79999999999998" y1="248.5" x2="179.6" y2="248.5" stroke="#1e1e1e" stroke-width="0.95"/>
<text x="209.70000000000002" y="250.9" font-size="7.0" text-anchor="end" textLength="21" lengthAdjust="spacingAndGlyphs" fill="#fff" stroke="#fff" stroke-width="0.04">16/152</text>
<text x="211.9" y="250.8" font-size="6.4" fill="#262626" stroke="#262626" stroke-width="0.04"><tspan font-style="italic">P</tspan> = 3.67E-4</text>
<rect x="179.60" y="254.40" width="24.00" height="8.30" fill="#0e4d92"/>
<text x="173.4" y="260.8" font-size="6.4" text-anchor="end" textLength="136.2" lengthAdjust="spacing" stroke="#262626" stroke-width="0.04">GO:0045577 regulation of B cell differentiation</text>
<line x1="176.79999999999998" y1="258.5" x2="179.6" y2="258.5" stroke="#1e1e1e" stroke-width="0.95"/>
<text x="202.9" y="260.9" font-size="7.0" text-anchor="end" textLength="13.2" lengthAdjust="spacingAndGlyphs" fill="#fff" stroke="#fff" stroke-width="0.04">6/35</text>
<text x="205.1" y="260.8" font-size="6.4" fill="#262626" stroke="#262626" stroke-width="0.04"><tspan font-style="italic">P</tspan> = 2.34E-3</text>
<rect x="179.60" y="264.40" width="18.20" height="8.30" fill="#0e4d92"/>
<text x="173.4" y="270.8" font-size="6.4" text-anchor="end" textLength="97.2" lengthAdjust="spacing" stroke="#262626" stroke-width="0.04">GO:0030183 B cell differentiation</text>
<line x1="176.79999999999998" y1="268.5" x2="179.6" y2="268.5" stroke="#1e1e1e" stroke-width="0.95"/>
<text x="197.10000000000002" y="270.9" font-size="7.0" text-anchor="end" textLength="17.5" lengthAdjust="spacingAndGlyphs" fill="#fff" stroke="#fff" stroke-width="0.04">1/107</text>
<text x="199.3" y="270.8" font-size="6.4" fill="#262626" stroke="#262626" stroke-width="0.04"><tspan font-style="italic">P</tspan> = 3.52E-3</text>
<line x1="179.6" y1="192" x2="179.6" y2="274.8" stroke="#1e1e1e" stroke-width="1.15"/>
<line x1="179.2" y1="274.4" x2="236.6" y2="274.4" stroke="#1e1e1e" stroke-width="1.15"/>
<line x1="179.7" y1="274.4" x2="179.7" y2="276.6" stroke="#1e1e1e" stroke-width="0.95"/>
<text x="179.7" y="285.6" font-size="7.3" text-anchor="middle" textLength="3.25" lengthAdjust="spacingAndGlyphs" stroke="#262626" stroke-width="0.04">0</text>
<line x1="190.45" y1="274.4" x2="190.45" y2="276.6" stroke="#1e1e1e" stroke-width="0.95"/>
<text x="190.45" y="285.6" font-size="7.3" text-anchor="middle" textLength="3.25" lengthAdjust="spacingAndGlyphs" stroke="#262626" stroke-width="0.04">5</text>
<line x1="201.2" y1="274.4" x2="201.2" y2="276.6" stroke="#1e1e1e" stroke-width="0.95"/>
<text x="201.2" y="285.6" font-size="7.3" text-anchor="middle" textLength="6.5" lengthAdjust="spacingAndGlyphs" stroke="#262626" stroke-width="0.04">10</text>
<line x1="211.95" y1="274.4" x2="211.95" y2="276.6" stroke="#1e1e1e" stroke-width="0.95"/>
<text x="211.95" y="285.6" font-size="7.3" text-anchor="middle" textLength="6.5" lengthAdjust="spacingAndGlyphs" stroke="#262626" stroke-width="0.04">15</text>
<line x1="222.7" y1="274.4" x2="222.7" y2="276.6" stroke="#1e1e1e" stroke-width="0.95"/>
<text x="222.7" y="285.6" font-size="7.3" text-anchor="middle" textLength="6.5" lengthAdjust="spacingAndGlyphs" stroke="#262626" stroke-width="0.04">20</text>
<line x1="233.45" y1="274.4" x2="233.45" y2="276.6" stroke="#1e1e1e" stroke-width="0.95"/>
<text x="233.45" y="285.6" font-size="7.3" text-anchor="middle" textLength="6.5" lengthAdjust="spacingAndGlyphs" stroke="#262626" stroke-width="0.04">25</text>
<text x="208.6" y="297.4" font-size="8.8" text-anchor="middle" textLength="51.3" lengthAdjust="spacingAndGlyphs" fill="#404040" stroke="#404040" stroke-width="0.04">Enrichment score</text>
<text transform="translate(267.6,233) rotate(-90)" font-size="8.4" text-anchor="middle" textLength="76.5" lengthAdjust="spacingAndGlyphs" fill="#3d6fa8" stroke="#3d6fa8" stroke-width="0.04">Downregulated GO terms</text>
<text transform="translate(281.53,191.4) scale(0.861,1)" font-size="11.6" font-weight="bold" fill="#000">E</text>
<rect x="414.50" y="194.40" width="47.00" height="8.30" fill="#c30424"/>
<text x="408.2" y="200.8" font-size="6.4" text-anchor="end" textLength="105.1" lengthAdjust="spacingAndGlyphs" stroke="#262626" stroke-width="0.04">GO:0002181 cytoplasmic translation</text>
<line x1="411.7" y1="198.5" x2="414.5" y2="198.5" stroke="#1e1e1e" stroke-width="0.95"/>
<text x="460.8" y="200.9" font-size="7.0" text-anchor="end" textLength="16.4" lengthAdjust="spacingAndGlyphs" fill="#fff" stroke="#fff" stroke-width="0.04">19/87</text>
<text x="463.0" y="200.8" font-size="6.4" fill="#262626" stroke="#262626" stroke-width="0.04"><tspan font-style="italic">P</tspan> = 1.65E-10</text>
<rect x="414.50" y="204.40" width="45.50" height="8.30" fill="#c30424"/>
<text x="408.2" y="210.8" font-size="6.4" text-anchor="end" textLength="93.3" lengthAdjust="spacing" stroke="#262626" stroke-width="0.04">GO:0022636 cytosolic ribosome</text>
<line x1="411.7" y1="208.5" x2="414.5" y2="208.5" stroke="#1e1e1e" stroke-width="0.95"/>
<text x="459.3" y="210.9" font-size="7.0" text-anchor="end" textLength="15.4" lengthAdjust="spacingAndGlyphs" fill="#fff" stroke="#fff" stroke-width="0.04">18/80</text>
<text x="461.5" y="210.8" font-size="6.4" fill="#262626" stroke="#262626" stroke-width="0.04"><tspan font-style="italic">P</tspan> = 4.48E-10</text>
<rect x="414.50" y="214.40" width="30.50" height="8.30" fill="#c30424"/>
<text x="408.2" y="220.8" font-size="6.4" text-anchor="end" textLength="116.2" lengthAdjust="spacing" stroke="#262626" stroke-width="0.04">GO:0043043 peptide metabolic process</text>
<line x1="411.7" y1="218.5" x2="414.5" y2="218.5" stroke="#1e1e1e" stroke-width="0.95"/>
<text x="444.3" y="220.9" font-size="7.0" text-anchor="end" textLength="21.2" lengthAdjust="spacingAndGlyphs" fill="#fff" stroke="#fff" stroke-width="0.04">36/397</text>
<text x="446.5" y="220.8" font-size="6.4" fill="#262626" stroke="#262626" stroke-width="0.04"><tspan font-style="italic">P</tspan> = 2.33E-8</text>
<rect x="414.50" y="224.40" width="28.50" height="8.30" fill="#c30424"/>
<text x="408.2" y="230.8" font-size="6.4" text-anchor="end" textLength="90.6" lengthAdjust="spacing" stroke="#262626" stroke-width="0.04">GO:0044391 ribosomal subunit</text>
<line x1="411.7" y1="228.5" x2="414.5" y2="228.5" stroke="#1e1e1e" stroke-width="0.95"/>
<text x="442.3" y="230.9" font-size="7.0" text-anchor="end" textLength="20" lengthAdjust="spacingAndGlyphs" fill="#fff" stroke="#fff" stroke-width="0.04">22/189</text>
<text x="444.5" y="230.8" font-size="6.4" fill="#262626" stroke="#262626" stroke-width="0.04"><tspan font-style="italic">P</tspan> = 1.94E-6</text>
<rect x="414.50" y="234.40" width="26.20" height="8.30" fill="#c30424"/>
<text x="408.2" y="240.8" font-size="6.4" text-anchor="end" textLength="69.1" lengthAdjust="spacingAndGlyphs" stroke="#262626" stroke-width="0.04">GO:0006412 translation</text>
<line x1="411.7" y1="238.5" x2="414.5" y2="238.5" stroke="#1e1e1e" stroke-width="0.95"/>
<text x="440.0" y="240.9" font-size="7.0" text-anchor="end" textLength="20" lengthAdjust="spacingAndGlyphs" fill="#fff" stroke="#fff" stroke-width="0.04">29/308</text>
<text x="442.2" y="240.8" font-size="6.4" fill="#262626" stroke="#262626" stroke-width="0.04"><tspan font-style="italic">P</tspan> = 4.59E-6</text>
<rect x="414.50" y="244.40" width="25.90" height="8.30" fill="#c30424"/>
<text x="408.2" y="250.8" font-size="6.4" text-anchor="end" textLength="73.8" lengthAdjust="spacing" stroke="#262626" stroke-width="0.04">GO:0030054 cell junction</text>
<line x1="411.7" y1="248.5" x2="414.5" y2="248.5" stroke="#1e1e1e" stroke-width="0.95"/>
<text x="439.7" y="250.9" font-size="7.0" text-anchor="end" textLength="23.4" lengthAdjust="spacingAndGlyphs" fill="#fff" stroke="#fff" stroke-width="0.04">93/1603</text>
<text x="441.9" y="250.8" font-size="6.4" fill="#262626" stroke="#262626" stroke-width="0.04"><tspan font-style="italic">P</tspan> = 1.73E-4</text>
<rect x="414.50" y="254.40" width="25.10" height="8.30" fill="#c30424"/>
<text x="408.2" y="260.8" font-size="6.4" text-anchor="end" textLength="111.1" lengthAdjust="spacingAndGlyphs" stroke="#262626" stroke-width="0.04">GO:0043603 amide metabolic process</text>
<line x1="411.7" y1="258.5" x2="414.5" y2="258.5" stroke="#1e1e1e" stroke-width="0.95"/>
<text x="438.90000000000003" y="260.9" font-size="7.0" text-anchor="end" textLength="20.8" lengthAdjust="spacingAndGlyphs" fill="#fff" stroke="#fff" stroke-width="0.04">45/611</text>
<text x="441.1" y="260.8" font-size="6.4" fill="#262626" stroke="#262626" stroke-width="0.04"><tspan font-style="italic">P</tspan> = 4.46E-7</text>
<rect x="414.50" y="264.40" width="21.30" height="8.30" fill="#c30424"/>
<text x="408.2" y="270.8" font-size="6.4" text-anchor="end" textLength="115.1" lengthAdjust="spacing" stroke="#262626" stroke-width="0.04">GO:0005102 signaling receptor binding</text>
<line x1="411.7" y1="268.5" x2="414.5" y2="268.5" stroke="#1e1e1e" stroke-width="0.95"/>
<text x="435.1" y="270.9" font-size="7.0" text-anchor="end" textLength="20.3" lengthAdjust="spacingAndGlyphs" fill="#fff" stroke="#fff" stroke-width="0.04">70/1184</text>
<text x="437.3" y="270.8" font-size="6.4" fill="#262626" stroke="#262626" stroke-width="0.04"><tspan font-style="italic">P</tspan> = 3.07E-5</text>
<line x1="414.5" y1="192" x2="414.5" y2="274.8" stroke="#1e1e1e" stroke-width="1.15"/>
<line x1="414.1" y1="274.4" x2="471.5" y2="274.4" stroke="#1e1e1e" stroke-width="1.15"/>
<line x1="414.6" y1="274.4" x2="414.6" y2="276.6" stroke="#1e1e1e" stroke-width="0.95"/>
<text x="414.6" y="285.6" font-size="7.3" text-anchor="middle" textLength="3.25" lengthAdjust="spacingAndGlyphs" stroke="#262626" stroke-width="0.04">0</text>
<line x1="425.35" y1="274.4" x2="425.35" y2="276.6" stroke="#1e1e1e" stroke-width="0.95"/>
<text x="425.35" y="285.6" font-size="7.3" text-anchor="middle" textLength="3.25" lengthAdjust="spacingAndGlyphs" stroke="#262626" stroke-width="0.04">5</text>
<line x1="436.1" y1="274.4" x2="436.1" y2="276.6" stroke="#1e1e1e" stroke-width="0.95"/>
<text x="436.1" y="285.6" font-size="7.3" text-anchor="middle" textLength="6.5" lengthAdjust="spacingAndGlyphs" stroke="#262626" stroke-width="0.04">10</text>
<line x1="446.85" y1="274.4" x2="446.85" y2="276.6" stroke="#1e1e1e" stroke-width="0.95"/>
<text x="446.85" y="285.6" font-size="7.3" text-anchor="middle" textLength="6.5" lengthAdjust="spacingAndGlyphs" stroke="#262626" stroke-width="0.04">15</text>
<line x1="457.6" y1="274.4" x2="457.6" y2="276.6" stroke="#1e1e1e" stroke-width="0.95"/>
<text x="457.6" y="285.6" font-size="7.3" text-anchor="middle" textLength="6.5" lengthAdjust="spacingAndGlyphs" stroke="#262626" stroke-width="0.04">20</text>
<line x1="468.35" y1="274.4" x2="468.35" y2="276.6" stroke="#1e1e1e" stroke-width="0.95"/>
<text x="468.35" y="285.6" font-size="7.3" text-anchor="middle" textLength="6.5" lengthAdjust="spacingAndGlyphs" stroke="#262626" stroke-width="0.04">25</text>
<text x="443.5" y="297.4" font-size="8.8" text-anchor="middle" textLength="51.3" lengthAdjust="spacingAndGlyphs" fill="#404040" stroke="#404040" stroke-width="0.04">Enrichment score</text>
<text transform="translate(511.2,233) rotate(-90)" font-size="8.4" text-anchor="middle" textLength="68.4" lengthAdjust="spacingAndGlyphs" fill="#c8325a" stroke="#c8325a" stroke-width="0.04">Upregulated GO terms</text>
<text transform="translate(9.20,324.3) scale(0.901,1)" font-size="11.6" font-weight="bold" fill="#000">F</text>
<text x="63.6" y="331.4" font-size="8.7" textLength="78.1" lengthAdjust="spacingAndGlyphs" stroke="#262626" stroke-width="0.04">Lymphoid GO terms</text>
<line x1="44.7" y1="399.4" x2="160.3" y2="399.4" stroke="#a8a8a8" stroke-width="0.8"/>
<path d="M46.65,411.88L49.95,411.88L48.30,408.91Z" fill="#c0183c"/>
<path d="M52.95,406.69L56.25,406.69L54.60,403.71Z" fill="#c0183c"/>
<path d="M73.35,410.99L76.65,410.99L75.00,408.01Z" fill="#c0183c"/>
<path d="M69.85,414.59L73.15,414.59L71.50,411.62Z" fill="#c0183c"/>
<path d="M75.65,414.79L78.95,414.79L77.30,411.81Z" fill="#c0183c"/>
<path d="M85.65,405.09L88.95,405.09L87.30,402.12Z" fill="#c0183c"/>
<path d="M74.35,411.09L77.65,411.09L76.00,408.12Z" fill="#c0183c"/>
<path d="M92.05,410.79L95.35,410.79L93.70,407.81Z" fill="#c0183c"/>
<path d="M92.45,412.49L95.75,412.49L94.10,409.51Z" fill="#c0183c"/>
<path d="M85.15,414.49L88.45,414.49L86.80,411.51Z" fill="#c0183c"/>
<path d="M104.85,414.49L108.15,414.49L106.50,411.51Z" fill="#c0183c"/>
<path d="M120.75,415.19L124.05,415.19L122.40,412.21Z" fill="#c0183c"/>
<path d="M138.25,414.88L141.55,414.88L139.90,411.91Z" fill="#c0183c"/>
<path d="M45.15,387.88L48.45,387.88L46.80,384.91Z" fill="#1e4274"/>
<path d="M52.85,386.49L56.15,386.49L54.50,383.51Z" fill="#1e4274"/>
<path d="M53.95,396.69L57.25,396.69L55.60,393.71Z" fill="#1e4274"/>
<path d="M70.65,378.79L73.95,378.79L72.30,375.81Z" fill="#1e4274"/>
<path d="M69.55,383.29L72.85,383.29L71.20,380.31Z" fill="#1e4274"/>
<path d="M73.35,387.99L76.65,387.99L75.00,385.01Z" fill="#1e4274"/>
<path d="M46.85,404.99L50.15,404.99L48.50,402.01Z" fill="#1e4274"/>
<path d="M46.05,411.09L49.35,411.09L47.70,408.12Z" fill="#1e4274"/>
<path d="M104.85,345.79L108.15,345.79L106.50,342.81Z" fill="#1e4274"/>
<path d="M92.35,356.88L95.65,356.88L94.00,353.91Z" fill="#1e4274"/>
<path d="M75.75,367.59L79.05,367.59L77.40,364.62Z" fill="#1e4274"/>
<path d="M91.85,373.59L95.15,373.59L93.50,370.62Z" fill="#1e4274"/>
<path d="M100.75,373.38L104.05,373.38L102.40,370.41Z" fill="#1e4274"/>
<path d="M85.65,376.99L88.95,376.99L87.30,374.01Z" fill="#1e4274"/>
<path d="M85.15,391.29L88.45,391.29L86.80,388.31Z" fill="#1e4274"/>
<path d="M138.25,345.49L141.55,345.49L139.90,342.51Z" fill="#1e4274"/>
<path d="M120.75,388.19L124.05,388.19L122.40,385.21Z" fill="#1e4274"/>
<line x1="44.7" y1="337.2" x2="44.7" y2="415.2" stroke="#1e1e1e" stroke-width="1.15"/>
<line x1="44.300000000000004" y1="414.7" x2="160.3" y2="414.7" stroke="#1e1e1e" stroke-width="1.15"/>
<line x1="41.5" y1="414.3" x2="44.7" y2="414.3" stroke="#1e1e1e" stroke-width="0.95"/>
<text x="38.7" y="416.5" font-size="6.3" text-anchor="end" stroke="#262626" stroke-width="0.04">0</text>
<line x1="41.5" y1="389.35" x2="44.7" y2="389.35" stroke="#1e1e1e" stroke-width="0.95"/>
<text x="38.7" y="391.55" font-size="6.3" text-anchor="end" stroke="#262626" stroke-width="0.04">5</text>
<line x1="41.5" y1="364.4" x2="44.7" y2="364.4" stroke="#1e1e1e" stroke-width="0.95"/>
<text x="38.7" y="366.59999999999997" font-size="6.3" text-anchor="end" stroke="#262626" stroke-width="0.04">10</text>
<line x1="41.5" y1="339.45" x2="44.7" y2="339.45" stroke="#1e1e1e" stroke-width="0.95"/>
<text x="38.7" y="341.65" font-size="6.3" text-anchor="end" stroke="#262626" stroke-width="0.04">15</text>
<line x1="44.8" y1="414.7" x2="44.8" y2="417.4" stroke="#1e1e1e" stroke-width="0.95"/>
<text x="44.8" y="426.2" font-size="6.3" text-anchor="middle" stroke="#262626" stroke-width="0.04">0</text>
<line x1="73.1" y1="414.7" x2="73.1" y2="417.4" stroke="#1e1e1e" stroke-width="0.95"/>
<text x="73.1" y="426.2" font-size="6.3" text-anchor="middle" stroke="#262626" stroke-width="0.04">100</text>
<line x1="101.4" y1="414.7" x2="101.4" y2="417.4" stroke="#1e1e1e" stroke-width="0.95"/>
<text x="101.4" y="426.2" font-size="6.3" text-anchor="middle" stroke="#262626" stroke-width="0.04">200</text>
<line x1="129.7" y1="414.7" x2="129.7" y2="417.4" stroke="#1e1e1e" stroke-width="0.95"/>
<text x="129.7" y="426.2" font-size="6.3" text-anchor="middle" stroke="#262626" stroke-width="0.04">300</text>
<line x1="158" y1="414.7" x2="158" y2="417.4" stroke="#1e1e1e" stroke-width="0.95"/>
<text x="158" y="426.2" font-size="6.3" text-anchor="middle" stroke="#262626" stroke-width="0.04">400</text>
<text x="102.85" y="439.6" font-size="8.6" text-anchor="middle" textLength="67.4" lengthAdjust="spacingAndGlyphs" fill="#404040" stroke="#404040" stroke-width="0.04">Number of genes in set</text>
<text transform="translate(26.900000000000002,375) rotate(-90)" font-size="8.4" text-anchor="middle" textLength="52.5" lengthAdjust="spacingAndGlyphs" fill="#484848" stroke="#484848" stroke-width="0.04">Enrichment score</text>
<text x="100" y="356.5" font-size="6.9" textLength="66.9" lengthAdjust="spacingAndGlyphs" fill="#33679f" stroke="#33679f" stroke-width="0.04">GO:0050863 regulation</text>
<text x="100" y="364.2" font-size="6.9" textLength="53" lengthAdjust="spacingAndGlyphs" fill="#33679f" stroke="#33679f" stroke-width="0.04">of T cell activation</text>
<text x="108.5" y="376.5" font-size="6.9" textLength="36.5" lengthAdjust="spacingAndGlyphs" fill="#33679f" stroke="#33679f" stroke-width="0.04">GO:0042113</text>
<text x="108.5" y="383.5" font-size="6.9" textLength="45.3" lengthAdjust="spacingAndGlyphs" fill="#33679f" stroke="#33679f" stroke-width="0.04">B cell activation</text>
<line x1="132.8" y1="350.4" x2="136.9" y2="346.5" stroke="#1d3a66" stroke-width="0.6"/>
<path d="M96.9,375.3 Q101,376.2 105.4,376.6" fill="none" stroke="#1d3a66" stroke-width="0.6"/>
<text transform="translate(184.91,324.3) scale(1.035,1)" font-size="11.6" font-weight="bold" fill="#000">G</text>
<text x="244.7" y="331.4" font-size="8.7" textLength="72" lengthAdjust="spacing" stroke="#262626" stroke-width="0.04">Myeloid GO terms</text>
<line x1="223.2" y1="399.4" x2="338.1" y2="399.4" stroke="#a8a8a8" stroke-width="0.8"/>
<path d="M225.55,400.49L228.85,400.49L227.20,397.51Z" fill="#c0183c"/>
<path d="M224.65,412.59L227.95,412.59L226.30,409.62Z" fill="#c0183c"/>
<path d="M228.75,414.88L232.05,414.88L230.40,411.91Z" fill="#c0183c"/>
<path d="M230.45,415.49L233.75,415.49L232.10,412.51Z" fill="#c0183c"/>
<path d="M235.05,408.29L238.35,408.29L236.70,405.31Z" fill="#c0183c"/>
<path d="M236.55,411.69L239.85,411.69L238.20,408.71Z" fill="#c0183c"/>
<path d="M243.15,412.88L246.45,412.88L244.80,409.91Z" fill="#c0183c"/>
<path d="M247.75,403.19L251.05,403.19L249.40,400.21Z" fill="#c0183c"/>
<path d="M248.55,410.09L251.85,410.09L250.20,407.12Z" fill="#c0183c"/>
<path d="M249.25,415.19L252.55,415.19L250.90,412.21Z" fill="#c0183c"/>
<path d="M268.55,401.29L271.85,401.29L270.20,398.31Z" fill="#c0183c"/>
<path d="M266.55,415.49L269.85,415.49L268.20,412.51Z" fill="#c0183c"/>
<path d="M318.65,415.49L321.95,415.49L320.30,412.51Z" fill="#c0183c"/>
<path d="M228.45,399.69L231.75,399.69L230.10,396.71Z" fill="#1e4274"/>
<path d="M224.35,405.69L227.65,405.69L226.00,402.71Z" fill="#1e4274"/>
<path d="M225.85,408.59L229.15,408.59L227.50,405.62Z" fill="#1e4274"/>
<path d="M230.25,409.19L233.55,409.19L231.90,406.21Z" fill="#1e4274"/>
<path d="M235.85,401.29L239.15,401.29L237.50,398.31Z" fill="#1e4274"/>
<path d="M236.25,410.88L239.55,410.88L237.90,407.91Z" fill="#1e4274"/>
<path d="M235.45,415.19L238.75,415.19L237.10,412.21Z" fill="#1e4274"/>
<path d="M248.15,392.49L251.45,392.49L249.80,389.51Z" fill="#1e4274"/>
<path d="M249.75,402.79L253.05,402.79L251.40,399.81Z" fill="#1e4274"/>
<path d="M252.05,411.69L255.35,411.69L253.70,408.71Z" fill="#1e4274"/>
<path d="M248.95,414.38L252.25,414.38L250.60,411.41Z" fill="#1e4274"/>
<path d="M268.15,392.99L271.45,392.99L269.80,390.01Z" fill="#1e4274"/>
<path d="M266.75,402.79L270.05,402.79L268.40,399.81Z" fill="#1e4274"/>
<path d="M265.05,411.69L268.35,411.69L266.70,408.71Z" fill="#1e4274"/>
<path d="M318.65,397.79L321.95,397.79L320.30,394.81Z" fill="#1e4274"/>
<line x1="223.2" y1="337.2" x2="223.2" y2="415.2" stroke="#1e1e1e" stroke-width="1.15"/>
<line x1="222.79999999999998" y1="414.7" x2="338" y2="414.7" stroke="#1e1e1e" stroke-width="1.15"/>
<line x1="220.0" y1="414.3" x2="223.2" y2="414.3" stroke="#1e1e1e" stroke-width="0.95"/>
<text x="217.2" y="416.5" font-size="6.3" text-anchor="end" stroke="#262626" stroke-width="0.04">0</text>
<line x1="220.0" y1="389.35" x2="223.2" y2="389.35" stroke="#1e1e1e" stroke-width="0.95"/>
<text x="217.2" y="391.55" font-size="6.3" text-anchor="end" stroke="#262626" stroke-width="0.04">5</text>
<line x1="220.0" y1="364.4" x2="223.2" y2="364.4" stroke="#1e1e1e" stroke-width="0.95"/>
<text x="217.2" y="366.59999999999997" font-size="6.3" text-anchor="end" stroke="#262626" stroke-width="0.04">10</text>
<line x1="220.0" y1="339.45" x2="223.2" y2="339.45" stroke="#1e1e1e" stroke-width="0.95"/>
<text x="217.2" y="341.65" font-size="6.3" text-anchor="end" stroke="#262626" stroke-width="0.04">15</text>
<line x1="222.9" y1="414.7" x2="222.9" y2="417.4" stroke="#1e1e1e" stroke-width="0.95"/>
<text x="222.9" y="426.2" font-size="6.3" text-anchor="middle" stroke="#262626" stroke-width="0.04">0</text>
<line x1="245.5" y1="414.7" x2="245.5" y2="417.4" stroke="#1e1e1e" stroke-width="0.95"/>
<text x="245.5" y="426.2" font-size="6.3" text-anchor="middle" stroke="#262626" stroke-width="0.04">100</text>
<line x1="268" y1="414.7" x2="268" y2="417.4" stroke="#1e1e1e" stroke-width="0.95"/>
<text x="268" y="426.2" font-size="6.3" text-anchor="middle" stroke="#262626" stroke-width="0.04">200</text>
<line x1="290.5" y1="414.7" x2="290.5" y2="417.4" stroke="#1e1e1e" stroke-width="0.95"/>
<text x="290.5" y="426.2" font-size="6.3" text-anchor="middle" stroke="#262626" stroke-width="0.04">300</text>
<line x1="313" y1="414.7" x2="313" y2="417.4" stroke="#1e1e1e" stroke-width="0.95"/>
<text x="313" y="426.2" font-size="6.3" text-anchor="middle" stroke="#262626" stroke-width="0.04">400</text>
<line x1="335.4" y1="414.7" x2="335.4" y2="417.4" stroke="#1e1e1e" stroke-width="0.95"/>
<text x="335.4" y="426.2" font-size="6.3" text-anchor="middle" stroke="#262626" stroke-width="0.04">500</text>
<text x="280.79999999999995" y="439.6" font-size="8.6" text-anchor="middle" textLength="67.4" lengthAdjust="spacingAndGlyphs" fill="#404040" stroke="#404040" stroke-width="0.04">Number of genes in set</text>
<text transform="translate(205.39999999999998,375) rotate(-90)" font-size="8.4" text-anchor="middle" textLength="52.5" lengthAdjust="spacingAndGlyphs" fill="#484848" stroke="#484848" stroke-width="0.04">Enrichment score</text>
<text x="227" y="361.8" font-size="6.9" textLength="73.2" lengthAdjust="spacingAndGlyphs" fill="#c83058" stroke="#c83058" stroke-width="0.04">GO:0030851 granulocyte</text>
<text x="227" y="369.3" font-size="6.9" textLength="38.5" lengthAdjust="spacingAndGlyphs" fill="#c83058" stroke="#c83058" stroke-width="0.04">differentiation</text>
<text x="263.3" y="375.4" font-size="6.9" textLength="61.9" lengthAdjust="spacingAndGlyphs" fill="#c83058" stroke="#c83058" stroke-width="0.04">GO:0002573 myeloid</text>
<text x="263.3" y="382.9" font-size="6.9" textLength="70.3" lengthAdjust="spacingAndGlyphs" fill="#c83058" stroke="#c83058" stroke-width="0.04">leukocyte differentiation</text>
<line x1="232.2" y1="372.7" x2="227.9" y2="394" stroke="#c83058" stroke-width="0.7"/>
<line x1="282.1" y1="386.7" x2="273.2" y2="396.3" stroke="#c83058" stroke-width="0.7"/>
<text transform="translate(357.36,324.3) scale(1.085,1)" font-size="11.6" font-weight="bold" fill="#000">H</text>
<text x="416.7" y="331.4" font-size="8.7" textLength="72.9" lengthAdjust="spacingAndGlyphs" stroke="#262626" stroke-width="0.04">Meg/Ery GO terms</text>
<line x1="395.2" y1="399.4" x2="511.2" y2="399.4" stroke="#a8a8a8" stroke-width="0.8"/>
<path d="M410.65,392.79L413.95,392.79L412.30,389.81Z" fill="#c0183c"/>
<path d="M438.85,399.09L442.15,399.09L440.50,396.12Z" fill="#c0183c"/>
<path d="M459.75,404.59L463.05,404.59L461.40,401.62Z" fill="#c0183c"/>
<path d="M428.75,415.38L432.05,415.38L430.40,412.41Z" fill="#c0183c"/>
<path d="M462.35,415.38L465.65,415.38L464.00,412.41Z" fill="#c0183c"/>
<path d="M485.05,408.49L488.35,408.49L486.70,405.51Z" fill="#c0183c"/>
<path d="M414.95,405.99L418.25,405.99L416.60,403.01Z" fill="#1e4274"/>
<path d="M410.65,411.79L413.95,411.79L412.30,408.81Z" fill="#1e4274"/>
<path d="M428.75,410.09L432.05,410.09L430.40,407.12Z" fill="#1e4274"/>
<path d="M433.05,414.69L436.35,414.69L434.70,411.71Z" fill="#1e4274"/>
<path d="M434.45,411.09L437.75,411.09L436.10,408.12Z" fill="#1e4274"/>
<path d="M435.35,409.69L438.65,409.69L437.00,406.71Z" fill="#1e4274"/>
<path d="M438.85,406.79L442.15,406.79L440.50,403.81Z" fill="#1e4274"/>
<path d="M459.75,399.99L463.05,399.99L461.40,397.01Z" fill="#1e4274"/>
<path d="M462.65,414.38L465.95,414.38L464.30,411.41Z" fill="#1e4274"/>
<path d="M485.05,415.19L488.35,415.19L486.70,412.21Z" fill="#1e4274"/>
<line x1="395.2" y1="337.2" x2="395.2" y2="415.2" stroke="#1e1e1e" stroke-width="1.15"/>
<line x1="394.8" y1="414.7" x2="510" y2="414.7" stroke="#1e1e1e" stroke-width="1.15"/>
<line x1="392.0" y1="414.3" x2="395.2" y2="414.3" stroke="#1e1e1e" stroke-width="0.95"/>
<text x="389.2" y="416.5" font-size="6.3" text-anchor="end" stroke="#262626" stroke-width="0.04">0</text>
<line x1="392.0" y1="389.35" x2="395.2" y2="389.35" stroke="#1e1e1e" stroke-width="0.95"/>
<text x="389.2" y="391.55" font-size="6.3" text-anchor="end" stroke="#262626" stroke-width="0.04">5</text>
<line x1="392.0" y1="364.4" x2="395.2" y2="364.4" stroke="#1e1e1e" stroke-width="0.95"/>
<text x="389.2" y="366.59999999999997" font-size="6.3" text-anchor="end" stroke="#262626" stroke-width="0.04">10</text>
<line x1="392.0" y1="339.45" x2="395.2" y2="339.45" stroke="#1e1e1e" stroke-width="0.95"/>
<text x="389.2" y="341.65" font-size="6.3" text-anchor="end" stroke="#262626" stroke-width="0.04">15</text>
<line x1="395.5" y1="414.7" x2="395.5" y2="417.4" stroke="#1e1e1e" stroke-width="0.95"/>
<text x="395.5" y="426.2" font-size="6.3" text-anchor="middle" stroke="#262626" stroke-width="0.04">0</text>
<line x1="423.5" y1="414.7" x2="423.5" y2="417.4" stroke="#1e1e1e" stroke-width="0.95"/>
<text x="423.5" y="426.2" font-size="6.3" text-anchor="middle" stroke="#262626" stroke-width="0.04">100</text>
<line x1="451.4" y1="414.7" x2="451.4" y2="417.4" stroke="#1e1e1e" stroke-width="0.95"/>
<text x="451.4" y="426.2" font-size="6.3" text-anchor="middle" stroke="#262626" stroke-width="0.04">200</text>
<line x1="479.5" y1="414.7" x2="479.5" y2="417.4" stroke="#1e1e1e" stroke-width="0.95"/>
<text x="479.5" y="426.2" font-size="6.3" text-anchor="middle" stroke="#262626" stroke-width="0.04">300</text>
<line x1="507.5" y1="414.7" x2="507.5" y2="417.4" stroke="#1e1e1e" stroke-width="0.95"/>
<text x="507.5" y="426.2" font-size="6.3" text-anchor="middle" stroke="#262626" stroke-width="0.04">400</text>
<text x="452.85" y="439.6" font-size="8.6" text-anchor="middle" textLength="67.4" lengthAdjust="spacingAndGlyphs" fill="#404040" stroke="#404040" stroke-width="0.04">Number of genes in set</text>
<text transform="translate(377.4,375) rotate(-90)" font-size="8.4" text-anchor="middle" textLength="52.5" lengthAdjust="spacingAndGlyphs" fill="#484848" stroke="#484848" stroke-width="0.04">Enrichment score</text>
<text x="401.3" y="363.7" font-size="6.9" textLength="92.7" lengthAdjust="spacingAndGlyphs" fill="#c83058" stroke="#c83058" stroke-width="0.04">GO:0010572 positive regulation</text>
<text x="401.3" y="371.6" font-size="6.9" textLength="59.2" lengthAdjust="spacingAndGlyphs" fill="#c83058" stroke="#c83058" stroke-width="0.04">of platelet activation</text>
<text x="428.4" y="380" font-size="6.9" textLength="60.7" lengthAdjust="spacingAndGlyphs" fill="#c83058" stroke="#c83058" stroke-width="0.04">GO:0030168 platelet</text>
<text x="428.4" y="387.6" font-size="6.9" textLength="27.9" lengthAdjust="spacingAndGlyphs" fill="#c83058" stroke="#c83058" stroke-width="0.04">activation</text>
<line x1="419.3" y1="375" x2="413.6" y2="388.8" stroke="#c83058" stroke-width="0.7"/>
<line x1="445.5" y1="390.8" x2="441.9" y2="395.4" stroke="#c83058" stroke-width="0.7"/>
<path d="M59.80,451.65L62.80,451.65L61.30,448.95Z" fill="#1e4274"/>
<text x="65.8" y="452.0" font-size="6.9" textLength="79.4" lengthAdjust="spacingAndGlyphs" fill="#33679f" stroke="#33679f" stroke-width="0.04">Decreased in MA vs. Y HSC</text>
<path d="M59.80,460.25L62.80,460.25L61.30,457.55Z" fill="#c0183c"/>
<text x="65.8" y="460.5" font-size="6.9" textLength="76.6" lengthAdjust="spacingAndGlyphs" fill="#c83058" stroke="#c83058" stroke-width="0.04">Increased in MA vs. Y HSC</text>
<path d="M237.30,451.65L240.30,451.65L238.80,448.95Z" fill="#1e4274"/>
<text x="243.8" y="452.0" font-size="6.9" textLength="79.4" lengthAdjust="spacingAndGlyphs" fill="#33679f" stroke="#33679f" stroke-width="0.04">Decreased in MA vs. Y HSC</text>
<path d="M237.30,460.25L240.30,460.25L238.80,457.55Z" fill="#c0183c"/>
<text x="243.8" y="460.5" font-size="6.9" textLength="76.6" lengthAdjust="spacingAndGlyphs" fill="#c83058" stroke="#c83058" stroke-width="0.04">Increased in MA vs. Y HSC</text>
<path d="M410.10,451.65L413.10,451.65L411.60,448.95Z" fill="#1e4274"/>
<text x="416.3" y="452.0" font-size="6.9" textLength="79.4" lengthAdjust="spacingAndGlyphs" fill="#33679f" stroke="#33679f" stroke-width="0.04">Decreased in MA vs. Y HSC</text>
<path d="M410.10,460.25L413.10,460.25L411.60,457.55Z" fill="#c0183c"/>
<text x="416.3" y="460.5" font-size="6.9" textLength="76.6" lengthAdjust="spacingAndGlyphs" fill="#c83058" stroke="#c83058" stroke-width="0.04">Increased in MA vs. Y HSC</text>
<text transform="translate(10.93,487.4) scale(0.928,1)" font-size="11.6" font-weight="bold" fill="#000">I</text>
<text x="57.4" y="494.7" font-size="8.8" textLength="96.2" lengthAdjust="spacingAndGlyphs" stroke="#262626" stroke-width="0.04">Acute inflamm HSC (LPS)</text>
<rect x="51.20" y="549.00" width="1.40" height="17.30" fill="#a8a8a8"/>
<rect x="53.20" y="549.00" width="0.80" height="17.30" fill="#a0a0a0"/>
<rect x="56.00" y="549.00" width="0.70" height="17.30" fill="#333"/>
<rect x="62.40" y="549.00" width="0.60" height="17.30" fill="#999"/>
<rect x="64.10" y="549.00" width="1.20" height="17.30" fill="#aaa"/>
<rect x="66.50" y="549.00" width="1.70" height="17.30" fill="#a0a0a0"/>
<rect x="74.30" y="549.00" width="1.40" height="17.30" fill="#999"/>
<rect x="77.10" y="549.00" width="0.60" height="17.30" fill="#8a8a8a"/>
<rect x="79.70" y="549.00" width="0.60" height="17.30" fill="#999"/>
<rect x="82.30" y="549.00" width="0.60" height="17.30" fill="#8a8a8a"/>
<rect x="89.20" y="549.00" width="0.60" height="17.30" fill="#8a8a8a"/>
<rect x="93.60" y="549.00" width="1.10" height="17.30" fill="#aaa"/>
<rect x="98.70" y="549.00" width="1.20" height="17.30" fill="#a8a8a8"/>
<rect x="123.00" y="549.00" width="0.60" height="17.30" fill="#bbb"/>
<rect x="129.70" y="549.00" width="0.60" height="17.30" fill="#8a8a8a"/>
<rect x="131.40" y="549.00" width="0.60" height="17.30" fill="#8a8a8a"/>
<rect x="134.20" y="549.00" width="1.00" height="17.30" fill="#444"/>
<rect x="135.60" y="549.00" width="1.80" height="17.30" fill="#777"/>
<rect x="138.30" y="549.00" width="0.60" height="17.30" fill="#8a8a8a"/>
<rect x="145.00" y="549.00" width="3.40" height="17.30" fill="#aaa"/>
<rect x="151.00" y="549.00" width="0.70" height="17.30" fill="#444"/>
<rect x="154.70" y="549.00" width="1.20" height="17.30" fill="#999"/>
<path d="M49.8,530.0 L50.5,522.0 L52.0,515.0 L53.0,512.0 L54.0,510.0 L55.0,508.5 L56.0,507.0 L56.5,505.0 L57.2,501.8 L58.0,503.0 L60.0,504.0 L62.0,505.5 L64.0,505.0 L66.5,504.0 L68.5,503.0 L70.0,504.0 L72.0,506.0 L74.0,507.0 L75.0,505.0 L77.0,506.0 L79.0,506.5 L81.0,506.0 L83.0,507.0 L85.0,508.5 L90.0,511.5 L95.0,514.5 L100.0,518.0 L110.0,526.3 L120.0,534.9 L124.8,538.2 L129.7,541.8 L133.7,544.2 L138.6,542.5 L143.4,546.3 L145.8,544.2 L150.3,541.8 L151.9,537.4 L155.1,539.8 L155.1,529.7" fill="none" stroke="#3c9c3c" stroke-width="1.0" stroke-linejoin="round"/>
<rect x="49.7" y="499.6" width="110.49999999999999" height="66.69999999999993" fill="none" stroke="#1e1e1e" stroke-width="1.05"/>
<line x1="49.7" y1="549.0" x2="160.2" y2="549.0" stroke="#1e1e1e" stroke-width="1.05"/>
<line x1="46.900000000000006" y1="503.7" x2="49.7" y2="503.7" stroke="#1e1e1e" stroke-width="0.95"/>
<text x="44.3" y="505.9" font-size="6.3" text-anchor="end" stroke="#262626" stroke-width="0.04">0.3</text>
<line x1="46.900000000000006" y1="512.5" x2="49.7" y2="512.5" stroke="#1e1e1e" stroke-width="0.95"/>
<text x="44.3" y="514.7" font-size="6.3" text-anchor="end" stroke="#262626" stroke-width="0.04">0.2</text>
<line x1="46.900000000000006" y1="521.3" x2="49.7" y2="521.3" stroke="#1e1e1e" stroke-width="0.95"/>
<text x="44.3" y="523.5" font-size="6.3" text-anchor="end" stroke="#262626" stroke-width="0.04">0.1</text>
<line x1="46.900000000000006" y1="530" x2="49.7" y2="530" stroke="#1e1e1e" stroke-width="0.95"/>
<text x="44.3" y="532.2" font-size="6.3" text-anchor="end" stroke="#262626" stroke-width="0.04">0.0</text>
<line x1="46.900000000000006" y1="538.8" x2="49.7" y2="538.8" stroke="#1e1e1e" stroke-width="0.95"/>
<text x="44.3" y="541.0" font-size="6.3" text-anchor="end" stroke="#262626" stroke-width="0.04">−0.1</text>
<line x1="46.900000000000006" y1="547.5" x2="49.7" y2="547.5" stroke="#1e1e1e" stroke-width="0.95"/>
<text x="44.3" y="549.7" font-size="6.3" text-anchor="end" stroke="#262626" stroke-width="0.04">−0.2</text>
<text x="118.5" y="507.4" font-size="6.3" stroke="#262626" stroke-width="0.04">NES = 1.031</text>
<text x="118.5" y="515.6" font-size="6.3" stroke="#262626" stroke-width="0.04">FDR = 0.430</text>
<text x="50.400000000000006" y="574.8" font-size="6.5" textLength="17.6" lengthAdjust="spacingAndGlyphs" stroke="#262626" stroke-width="0.04">Y HSC</text>
<text x="162.0" y="574.8" font-size="6.5" text-anchor="end" textLength="24.4" lengthAdjust="spacingAndGlyphs" stroke="#262626" stroke-width="0.04">MA HSC</text>
<text transform="translate(27.2,525.4) rotate(-90)" font-size="8.4" text-anchor="middle" textLength="51.8" lengthAdjust="spacingAndGlyphs" fill="#484848" stroke="#484848" stroke-width="0.04">Enrichment score</text>
<text x="230.8" y="494.7" font-size="8.8" textLength="101.5" lengthAdjust="spacingAndGlyphs" stroke="#262626" stroke-width="0.04">Chronic inflamm HSC (IL-1)</text>
<rect x="228.60" y="549.30" width="2.40" height="17.00" fill="#9a9a9a"/>
<rect x="231.20" y="549.30" width="0.50" height="17.00" fill="#555555"/>
<rect x="231.70" y="549.30" width="1.30" height="17.00" fill="#a0a0a0"/>
<rect x="233.00" y="549.30" width="0.60" height="17.00" fill="#f0f0f0"/>
<rect x="233.60" y="549.30" width="0.80" height="17.00" fill="#b0b0b0"/>
<rect x="234.40" y="549.30" width="0.60" height="17.00" fill="#555555"/>
<rect x="235.00" y="549.30" width="7.00" height="17.00" fill="#a5a5a5"/>
<rect x="242.00" y="549.30" width="0.80" height="17.00" fill="#f4f4f4"/>
<rect x="242.80" y="549.30" width="3.20" height="17.00" fill="#a0a0a0"/>
<rect x="246.00" y="549.30" width="0.80" height="17.00" fill="#f4f4f4"/>
<rect x="246.80" y="549.30" width="3.20" height="17.00" fill="#a8a8a8"/>
<rect x="250.00" y="549.30" width="0.80" height="17.00" fill="#e0e0e0"/>
<rect x="251.20" y="549.30" width="0.60" height="17.00" fill="#555555"/>
<rect x="251.80" y="549.30" width="1.80" height="17.00" fill="#a0a0a0"/>
<rect x="253.60" y="549.30" width="0.90" height="17.00" fill="#f4f4f4"/>
<rect x="254.50" y="549.30" width="1.50" height="17.00" fill="#999999"/>
<rect x="256.00" y="549.30" width="0.60" height="17.00" fill="#444444"/>
<rect x="256.60" y="549.30" width="1.40" height="17.00" fill="#aaaaaa"/>
<rect x="258.00" y="549.30" width="0.90" height="17.00" fill="#f6f6f6"/>
<rect x="258.90" y="549.30" width="2.10" height="17.00" fill="#a5a5a5"/>
<rect x="261.00" y="549.30" width="0.80" height="17.00" fill="#e8e8e8"/>
<rect x="261.80" y="549.30" width="1.20" height="17.00" fill="#999999"/>
<rect x="263.00" y="549.30" width="2.30" height="17.00" fill="#777777"/>
<rect x="265.30" y="549.30" width="1.20" height="17.00" fill="#f4f4f4"/>
<rect x="266.50" y="549.30" width="1.80" height="17.00" fill="#666666"/>
<rect x="268.30" y="549.30" width="0.50" height="17.00" fill="#f0f0f0"/>
<rect x="268.80" y="549.30" width="3.30" height="17.00" fill="#888888"/>
<rect x="272.10" y="549.30" width="0.60" height="17.00" fill="#f4f4f4"/>
<rect x="272.70" y="549.30" width="2.50" height="17.00" fill="#777777"/>
<rect x="275.20" y="549.30" width="1.80" height="17.00" fill="#e0e0e0"/>
<rect x="277.00" y="549.30" width="5.80" height="17.00" fill="#9a9a9a"/>
<rect x="282.80" y="549.30" width="1.00" height="17.00" fill="#f4f4f4"/>
<rect x="283.80" y="549.30" width="1.20" height="17.00" fill="#aaaaaa"/>
<rect x="285.00" y="549.30" width="3.30" height="17.00" fill="#fafafa"/>
<rect x="288.30" y="549.30" width="2.00" height="17.00" fill="#999999"/>
<rect x="290.30" y="549.30" width="0.70" height="17.00" fill="#e8e8e8"/>
<rect x="291.00" y="549.30" width="3.20" height="17.00" fill="#8a8a8a"/>
<rect x="294.20" y="549.30" width="1.30" height="17.00" fill="#f4f4f4"/>
<rect x="295.50" y="549.30" width="2.70" height="17.00" fill="#666666"/>
<rect x="298.20" y="549.30" width="3.10" height="17.00" fill="#f6f6f6"/>
<rect x="301.30" y="549.30" width="6.90" height="17.00" fill="#858585"/>
<rect x="308.20" y="549.30" width="0.80" height="17.00" fill="#bbbbbb"/>
<rect x="309.00" y="549.30" width="1.60" height="17.00" fill="#f6f6f6"/>
<rect x="310.60" y="549.30" width="4.50" height="17.00" fill="#999999"/>
<rect x="315.10" y="549.30" width="0.90" height="17.00" fill="#444444"/>
<rect x="316.00" y="549.30" width="1.70" height="17.00" fill="#f4f4f4"/>
<rect x="317.70" y="549.30" width="2.90" height="17.00" fill="#888888"/>
<rect x="320.60" y="549.30" width="1.90" height="17.00" fill="#444444"/>
<rect x="322.50" y="549.30" width="5.60" height="17.00" fill="#aaaaaa"/>
<rect x="328.10" y="549.30" width="0.80" height="17.00" fill="#333333"/>
<rect x="328.90" y="549.30" width="1.50" height="17.00" fill="#f4f4f4"/>
<rect x="330.40" y="549.30" width="0.90" height="17.00" fill="#333333"/>
<rect x="331.30" y="549.30" width="2.30" height="17.00" fill="#999999"/>
<path d="M228.5,511.0 L229.0,506.0 L230.0,506.0 L231.5,502.0 L233.0,502.0 L237.0,503.0 L240.0,504.5 L244.0,505.5 L248.0,507.0 L250.0,508.0 L253.0,507.5 L256.0,509.0 L260.0,511.0 L265.0,513.5 L270.0,516.0 L275.0,519.4 L285.0,526.3 L296.0,533.6 L301.1,537.0 L306.2,540.4 L311.2,543.3 L316.3,545.5 L321.4,546.5 L325.6,546.7 L328.1,546.1 L330.3,544.2 L331.5,540.4 L332.5,536.6 L333.2,530.2 L333.4,523.9" fill="none" stroke="#3c9c3c" stroke-width="1.0" stroke-linejoin="round"/>
<rect x="228.4" y="499.6" width="109.6" height="66.69999999999993" fill="none" stroke="#1e1e1e" stroke-width="1.05"/>
<line x1="228.4" y1="549.3" x2="338.0" y2="549.3" stroke="#1e1e1e" stroke-width="1.05"/>
<line x1="225.6" y1="501.7" x2="228.4" y2="501.7" stroke="#1e1e1e" stroke-width="0.95"/>
<text x="223.3" y="503.9" font-size="6.3" text-anchor="end" stroke="#262626" stroke-width="0.04">0.3</text>
<line x1="225.6" y1="509.4" x2="228.4" y2="509.4" stroke="#1e1e1e" stroke-width="0.95"/>
<text x="223.3" y="511.59999999999997" font-size="6.3" text-anchor="end" stroke="#262626" stroke-width="0.04">0.2</text>
<line x1="225.6" y1="516.9" x2="228.4" y2="516.9" stroke="#1e1e1e" stroke-width="0.95"/>
<text x="223.3" y="519.1" font-size="6.3" text-anchor="end" stroke="#262626" stroke-width="0.04">0.1</text>
<line x1="225.6" y1="524.5" x2="228.4" y2="524.5" stroke="#1e1e1e" stroke-width="0.95"/>
<text x="223.3" y="526.7" font-size="6.3" text-anchor="end" stroke="#262626" stroke-width="0.04">0.0</text>
<line x1="225.6" y1="532.1" x2="228.4" y2="532.1" stroke="#1e1e1e" stroke-width="0.95"/>
<text x="223.3" y="534.3000000000001" font-size="6.3" text-anchor="end" stroke="#262626" stroke-width="0.04">−0.1</text>
<line x1="225.6" y1="540" x2="228.4" y2="540" stroke="#1e1e1e" stroke-width="0.95"/>
<text x="223.3" y="542.2" font-size="6.3" text-anchor="end" stroke="#262626" stroke-width="0.04">−0.2</text>
<line x1="225.6" y1="547.5" x2="228.4" y2="547.5" stroke="#1e1e1e" stroke-width="0.95"/>
<text x="223.3" y="549.7" font-size="6.3" text-anchor="end" stroke="#262626" stroke-width="0.04">−0.3</text>
<text x="297.3" y="507.4" font-size="6.3" stroke="#262626" stroke-width="0.04">NES = 1.168</text>
<text x="297.3" y="515.6" font-size="6.3" stroke="#262626" stroke-width="0.04">FDR = 0.254</text>
<text x="229.1" y="574.8" font-size="6.5" textLength="17.6" lengthAdjust="spacingAndGlyphs" stroke="#262626" stroke-width="0.04">Y HSC</text>
<text x="339.8" y="574.8" font-size="6.5" text-anchor="end" textLength="24.4" lengthAdjust="spacingAndGlyphs" stroke="#262626" stroke-width="0.04">MA HSC</text>
<text transform="translate(204.5,525.4) rotate(-90)" font-size="8.4" text-anchor="middle" textLength="51.8" lengthAdjust="spacingAndGlyphs" fill="#484848" stroke="#484848" stroke-width="0.04">Enrichment score</text>
<text transform="translate(357.75,487.2) scale(0.875,1)" font-size="11.6" font-weight="bold" fill="#000">J</text>
<text x="401.5" y="494.7" font-size="8.8" textLength="107.7" lengthAdjust="spacingAndGlyphs" stroke="#262626" stroke-width="0.04">Differentiation inactive HSC</text>
<rect x="401.70" y="548.80" width="0.60" height="17.50" fill="#8a8a8a"/>
<rect x="403.70" y="548.80" width="0.60" height="17.50" fill="#8a8a8a"/>
<rect x="406.00" y="548.80" width="0.60" height="17.50" fill="#8a8a8a"/>
<rect x="415.90" y="548.80" width="0.60" height="17.50" fill="#8a8a8a"/>
<rect x="425.70" y="548.80" width="1.10" height="17.50" fill="#999"/>
<rect x="429.40" y="548.80" width="0.60" height="17.50" fill="#8a8a8a"/>
<rect x="434.40" y="548.80" width="0.60" height="17.50" fill="#8a8a8a"/>
<rect x="445.00" y="548.80" width="0.60" height="17.50" fill="#8a8a8a"/>
<rect x="448.70" y="548.80" width="2.30" height="17.50" fill="#aaa"/>
<rect x="470.00" y="548.80" width="1.10" height="17.50" fill="#aaa"/>
<rect x="473.70" y="548.80" width="0.60" height="17.50" fill="#8a8a8a"/>
<rect x="475.50" y="548.80" width="0.60" height="17.50" fill="#8a8a8a"/>
<rect x="477.70" y="548.80" width="0.60" height="17.50" fill="#8a8a8a"/>
<rect x="487.90" y="548.80" width="0.60" height="17.50" fill="#777"/>
<rect x="495.40" y="548.80" width="1.10" height="17.50" fill="#999"/>
<rect x="498.50" y="548.80" width="0.60" height="17.50" fill="#8a8a8a"/>
<rect x="500.60" y="548.80" width="1.70" height="17.50" fill="#999"/>
<rect x="503.30" y="548.80" width="2.30" height="17.50" fill="#1a1a1a"/>
<path d="M400.5,503.6 L402.0,502.5 L404.0,502.5 L405.5,502.7 L407.0,501.8 L407.5,501.0 L410.0,503.0 L413.0,505.0 L415.0,506.2 L416.0,506.5 L417.5,506.0 L420.0,508.0 L423.0,510.0 L425.0,511.0 L427.0,511.0 L430.0,512.0 L433.0,513.0 L435.0,514.0 L438.0,516.0 L440.0,517.0 L443.0,519.0 L446.0,521.0 L449.0,522.5 L451.0,523.0 L455.0,524.4 L470.0,533.3 L478.1,537.8 L487.8,542.6 L488.7,542.2 L495.0,546.5 L496.7,545.7 L498.7,545.7 L500.3,544.2 L502.3,543.4 L503.5,541.8 L504.3,536.2 L504.7,531.3 L505.1,524.8 L505.5,503.6" fill="none" stroke="#3c9c3c" stroke-width="1.0" stroke-linejoin="round"/>
<rect x="400.5" y="499.6" width="109.80000000000001" height="66.69999999999993" fill="none" stroke="#1e1e1e" stroke-width="1.05"/>
<line x1="400.5" y1="548.8" x2="510.3" y2="548.8" stroke="#1e1e1e" stroke-width="1.05"/>
<line x1="397.7" y1="503.6" x2="400.5" y2="503.6" stroke="#1e1e1e" stroke-width="0.95"/>
<text x="395" y="505.8" font-size="6.3" text-anchor="end" stroke="#262626" stroke-width="0.04">0.0</text>
<line x1="397.7" y1="509.9" x2="400.5" y2="509.9" stroke="#1e1e1e" stroke-width="0.95"/>
<text x="395" y="512.1" font-size="6.3" text-anchor="end" stroke="#262626" stroke-width="0.04">−0.1</text>
<line x1="397.7" y1="516.2" x2="400.5" y2="516.2" stroke="#1e1e1e" stroke-width="0.95"/>
<text x="395" y="518.4000000000001" font-size="6.3" text-anchor="end" stroke="#262626" stroke-width="0.04">−0.2</text>
<line x1="397.7" y1="522.5" x2="400.5" y2="522.5" stroke="#1e1e1e" stroke-width="0.95"/>
<text x="395" y="524.7" font-size="6.3" text-anchor="end" stroke="#262626" stroke-width="0.04">−0.3</text>
<line x1="397.7" y1="528.8" x2="400.5" y2="528.8" stroke="#1e1e1e" stroke-width="0.95"/>
<text x="395" y="531.0" font-size="6.3" text-anchor="end" stroke="#262626" stroke-width="0.04">−0.4</text>
<line x1="397.7" y1="535.1" x2="400.5" y2="535.1" stroke="#1e1e1e" stroke-width="0.95"/>
<text x="395" y="537.3000000000001" font-size="6.3" text-anchor="end" stroke="#262626" stroke-width="0.04">−0.5</text>
<line x1="397.7" y1="541.4" x2="400.5" y2="541.4" stroke="#1e1e1e" stroke-width="0.95"/>
<text x="395" y="543.6" font-size="6.3" text-anchor="end" stroke="#262626" stroke-width="0.04">−0.6</text>
<line x1="397.7" y1="547.7" x2="400.5" y2="547.7" stroke="#1e1e1e" stroke-width="0.95"/>
<text x="395" y="549.9000000000001" font-size="6.3" text-anchor="end" stroke="#262626" stroke-width="0.04">−0.7</text>
<text x="463" y="507.4" font-size="6.3" stroke="#262626" stroke-width="0.04">NES = −2.279</text>
<text x="463" y="515.6" font-size="6.3" stroke="#262626" stroke-width="0.04">FDR = 0.000</text>
<text x="401.2" y="574.8" font-size="6.5" textLength="17.6" lengthAdjust="spacingAndGlyphs" stroke="#262626" stroke-width="0.04">Y HSC</text>
<text x="512.1" y="574.8" font-size="6.5" text-anchor="end" textLength="24.4" lengthAdjust="spacingAndGlyphs" stroke="#262626" stroke-width="0.04">MA HSC</text>
<text transform="translate(376.5,525.4) rotate(-90)" font-size="8.4" text-anchor="middle" textLength="51.8" lengthAdjust="spacingAndGlyphs" fill="#484848" stroke="#484848" stroke-width="0.04">Enrichment score</text>
</g>
<rect x="0.5" y="0.5" width="519" height="582" fill="none" stroke="#4a4a4a" stroke-width="1"/>
</svg>
</body></html>
